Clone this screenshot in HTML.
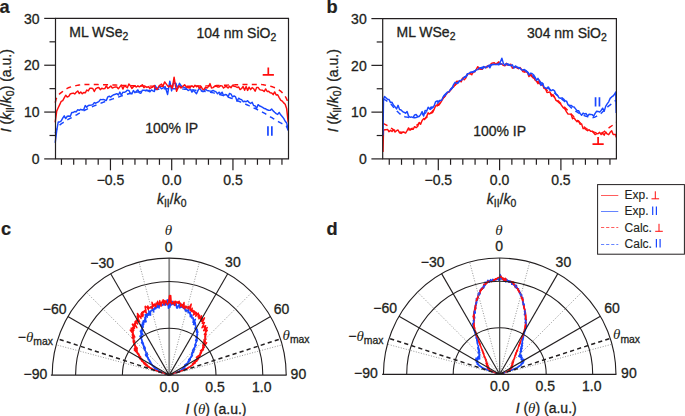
<!DOCTYPE html>
<html><head><meta charset="utf-8"><style>
html,body{margin:0;padding:0;background:#fff;width:685px;height:416px;overflow:hidden}
svg{display:block}
text{stroke:#231f20;stroke-width:0.3px}

</style></head><body>
<svg width="685" height="416" viewBox="0 0 685 416" font-family="'Liberation Sans', sans-serif">
<rect width="685" height="416" fill="#fff"/>
<text x="-0.6" y="13" font-size="18.2" font-weight="bold" style="stroke-width:0.2px" fill="#231f20">a</text>
<text x="326.6" y="12.8" font-size="18.2" font-weight="bold" style="stroke-width:0.2px" fill="#231f20">b</text>
<text x="1.1" y="235.3" font-size="18.2" font-weight="bold" style="stroke-width:0.2px" fill="#231f20">c</text>
<text x="326.6" y="235.3" font-size="18.2" font-weight="bold" style="stroke-width:0.2px" fill="#231f20">d</text>
<path d="M55.2 102.7 L56.2 98.86 L57.19 97 L58.19 95.52 L59.19 94.34 L60.18 93.39 L61.18 92.58 L62.17 91.84 L63.17 91.09 L64.16 90.37 L65.16 89.69 L66.16 89.06 L67.15 88.48 L68.15 87.96 L69.14 87.5 L70.14 87.12 L71.13 86.81 L72.13 86.55 L73.13 86.3 L74.12 86.06 L75.12 85.83 L76.11 85.61 L77.11 85.41 L78.1 85.22 L79.1 85.04 L80.1 84.89 L81.09 84.75 L82.09 84.64 L83.08 84.55 L84.08 84.49 L85.07 84.45 L86.07 84.44 L87.07 84.44 L88.06 84.44 L89.06 84.45 L90.05 84.46 L91.05 84.47 L92.04 84.48 L93.04 84.49 L94.03 84.51 L95.03 84.53 L96.03 84.55 L97.02 84.57 L98.02 84.59 L99.01 84.61 L100.01 84.63 L101 84.66 L102 84.68 L103 84.71 L103.99 84.73 L104.99 84.76 L105.98 84.79 L106.98 84.81 L107.97 84.84 L108.97 84.87 L109.97 84.89 L110.96 84.92 L111.96 84.95 L112.95 84.98 L113.95 85.01 L114.94 85.05 L115.94 85.09 L116.94 85.13 L117.93 85.17 L118.93 85.22 L119.92 85.26 L120.92 85.31 L121.91 85.35 L122.91 85.4 L123.91 85.44 L124.9 85.49 L125.9 85.53 L126.89 85.58 L127.89 85.62 L128.88 85.66 L129.88 85.69 L130.88 85.73 L131.87 85.76 L132.87 85.79 L133.86 85.82 L134.86 85.84 L135.85 85.86 L136.85 85.88 L137.85 85.9 L138.84 85.92 L139.84 85.94 L140.83 85.95 L141.83 85.97 L142.82 85.99 L143.82 86.01 L144.82 86.03 L145.81 86.05 L146.81 86.06 L147.8 86.08 L148.8 86.1 L149.79 86.11 L150.79 86.13 L151.79 86.14 L152.78 86.16 L153.78 86.17 L154.77 86.18 L155.77 86.2 L156.76 86.21 L157.76 86.22 L158.76 86.23 L159.75 86.24 L160.75 86.25 L161.74 86.26 L162.74 86.27 L163.73 86.28 L164.73 86.29 L165.73 86.29 L166.72 86.3 L167.72 86.3 L168.71 86.3 L169.71 86.31 L170.7 86.31 L171.7 86.31 L172.7 86.31 L173.69 86.31 L174.69 86.3 L175.68 86.3 L176.68 86.3 L177.67 86.29 L178.67 86.29 L179.67 86.28 L180.66 86.27 L181.66 86.26 L182.65 86.25 L183.65 86.24 L184.64 86.23 L185.64 86.22 L186.64 86.21 L187.63 86.2 L188.63 86.18 L189.62 86.17 L190.62 86.16 L191.61 86.14 L192.61 86.13 L193.61 86.11 L194.6 86.1 L195.6 86.08 L196.59 86.06 L197.59 86.05 L198.58 86.03 L199.58 86.01 L200.58 85.99 L201.57 85.97 L202.57 85.95 L203.56 85.94 L204.56 85.92 L205.55 85.9 L206.55 85.88 L207.55 85.86 L208.54 85.84 L209.54 85.82 L210.53 85.79 L211.53 85.76 L212.52 85.73 L213.52 85.7 L214.52 85.67 L215.51 85.63 L216.51 85.59 L217.5 85.55 L218.5 85.51 L219.49 85.47 L220.49 85.43 L221.49 85.38 L222.48 85.34 L223.48 85.3 L224.47 85.25 L225.47 85.21 L226.46 85.16 L227.46 85.12 L228.46 85.08 L229.45 85.04 L230.45 85 L231.44 84.96 L232.44 84.92 L233.43 84.89 L234.43 84.85 L235.43 84.81 L236.42 84.76 L237.42 84.72 L238.41 84.68 L239.41 84.64 L240.4 84.59 L241.4 84.56 L242.4 84.52 L243.39 84.49 L244.39 84.47 L245.38 84.45 L246.38 84.44 L247.37 84.44 L248.37 84.44 L249.37 84.44 L250.36 84.44 L251.36 84.44 L252.35 84.44 L253.35 84.44 L254.34 84.44 L255.34 84.44 L256.33 84.44 L257.33 84.44 L258.33 84.44 L259.32 84.44 L260.32 84.47 L261.31 84.55 L262.31 84.65 L263.3 84.78 L264.3 84.93 L265.3 85.11 L266.29 85.29 L267.29 85.49 L268.28 85.7 L269.28 85.91 L270.27 86.15 L271.27 86.43 L272.27 86.75 L273.26 87.11 L274.26 87.51 L275.25 87.95 L276.25 88.44 L277.24 88.96 L278.24 89.52 L279.24 90.12 L280.23 90.82 L281.23 91.66 L282.22 92.64 L283.22 93.77 L284.21 95.03 L285.21 96.45 L286.21 98.09 L287.2 100.35 L288.2 103.64" fill="none" stroke="#ff0d0d" stroke-width="1.45" stroke-linejoin="round" stroke-dasharray="5 4.3"/>
<path d="M55.2 133.14 L56.2 130.36 L57.19 128.01 L58.19 126.54 L59.19 125.46 L60.18 124.58 L61.18 123.83 L62.17 123.17 L63.17 122.54 L64.16 121.89 L65.16 121.24 L66.16 120.62 L67.15 120.04 L68.15 119.48 L69.14 118.94 L70.14 118.4 L71.13 117.88 L72.13 117.35 L73.13 116.82 L74.12 116.27 L75.12 115.7 L76.11 115.11 L77.11 114.51 L78.1 113.9 L79.1 113.3 L80.1 112.7 L81.09 112.12 L82.09 111.56 L83.08 111.03 L84.08 110.52 L85.07 110.02 L86.07 109.53 L87.07 109.06 L88.06 108.59 L89.06 108.13 L90.05 107.68 L91.05 107.23 L92.04 106.8 L93.04 106.37 L94.03 105.94 L95.03 105.52 L96.03 105.11 L97.02 104.7 L98.02 104.3 L99.01 103.9 L100.01 103.51 L101 103.12 L102 102.74 L103 102.36 L103.99 101.98 L104.99 101.61 L105.98 101.25 L106.98 100.89 L107.97 100.53 L108.97 100.18 L109.97 99.84 L110.96 99.5 L111.96 99.16 L112.95 98.83 L113.95 98.5 L114.94 98.18 L115.94 97.84 L116.94 97.51 L117.93 97.17 L118.93 96.84 L119.92 96.5 L120.92 96.16 L121.91 95.83 L122.91 95.51 L123.91 95.18 L124.9 94.87 L125.9 94.56 L126.89 94.27 L127.89 93.98 L128.88 93.71 L129.88 93.45 L130.88 93.21 L131.87 92.98 L132.87 92.77 L133.86 92.58 L134.86 92.41 L135.85 92.25 L136.85 92.1 L137.85 91.94 L138.84 91.79 L139.84 91.64 L140.83 91.48 L141.83 91.33 L142.82 91.19 L143.82 91.04 L144.82 90.9 L145.81 90.76 L146.81 90.62 L147.8 90.48 L148.8 90.35 L149.79 90.22 L150.79 90.1 L151.79 89.98 L152.78 89.86 L153.78 89.75 L154.77 89.64 L155.77 89.53 L156.76 89.43 L157.76 89.34 L158.76 89.25 L159.75 89.17 L160.75 89.09 L161.74 89.02 L162.74 88.95 L163.73 88.89 L164.73 88.83 L165.73 88.79 L166.72 88.75 L167.72 88.71 L168.71 88.69 L169.71 88.67 L170.7 88.65 L171.7 88.65 L172.7 88.65 L173.69 88.66 L174.69 88.68 L175.68 88.7 L176.68 88.73 L177.67 88.77 L178.67 88.81 L179.67 88.86 L180.66 88.91 L181.66 88.97 L182.65 89.03 L183.65 89.1 L184.64 89.17 L185.64 89.25 L186.64 89.33 L187.63 89.41 L188.63 89.5 L189.62 89.6 L190.62 89.7 L191.61 89.8 L192.61 89.91 L193.61 90.01 L194.6 90.13 L195.6 90.24 L196.59 90.36 L197.59 90.48 L198.58 90.6 L199.58 90.73 L200.58 90.86 L201.57 90.99 L202.57 91.12 L203.56 91.25 L204.56 91.39 L205.55 91.52 L206.55 91.66 L207.55 91.8 L208.54 91.94 L209.54 92.09 L210.53 92.26 L211.53 92.45 L212.52 92.65 L213.52 92.87 L214.52 93.1 L215.51 93.34 L216.51 93.6 L217.5 93.87 L218.5 94.15 L219.49 94.44 L220.49 94.73 L221.49 95.04 L222.48 95.35 L223.48 95.66 L224.47 95.98 L225.47 96.3 L226.46 96.63 L227.46 96.95 L228.46 97.28 L229.45 97.61 L230.45 97.94 L231.44 98.29 L232.44 98.66 L233.43 99.04 L234.43 99.43 L235.43 99.83 L236.42 100.23 L237.42 100.65 L238.41 101.07 L239.41 101.5 L240.4 101.93 L241.4 102.36 L242.4 102.79 L243.39 103.22 L244.39 103.66 L245.38 104.09 L246.38 104.53 L247.37 104.98 L248.37 105.44 L249.37 105.9 L250.36 106.36 L251.36 106.83 L252.35 107.3 L253.35 107.77 L254.34 108.24 L255.34 108.71 L256.33 109.18 L257.33 109.64 L258.33 110.11 L259.32 110.58 L260.32 111.06 L261.31 111.55 L262.31 112.06 L263.3 112.59 L264.3 113.14 L265.3 113.71 L266.29 114.31 L267.29 114.92 L268.28 115.54 L269.28 116.15 L270.27 116.77 L271.27 117.38 L272.27 117.98 L273.26 118.57 L274.26 119.17 L275.25 119.76 L276.25 120.36 L277.24 120.95 L278.24 121.54 L279.24 122.12 L280.23 122.7 L281.23 123.22 L282.22 123.65 L283.22 124.06 L284.21 124.52 L285.21 125.13 L286.21 125.96 L287.2 127.79 L288.2 130.8" fill="none" stroke="#1947ff" stroke-width="1.45" stroke-linejoin="round" stroke-dasharray="5 4.3"/>
<path d="M55.2 142.85 L56.71 130.66 L58.21 122 L59.71 122 L61.22 120.94 L62.72 118.13 L64.22 115.86 L65.72 118.61 L67.23 116.25 L68.73 115.97 L70.23 116.5 L71.74 112.41 L73.24 112.46 L74.74 111.49 L76.25 111.82 L77.75 109.67 L79.25 110.37 L80.76 109.33 L82.26 109.98 L83.76 109.48 L85.27 105.57 L86.77 107.2 L88.27 105.48 L89.78 105.23 L91.28 105.12 L92.78 104.62 L94.29 102.6 L95.79 103.21 L97.29 102.44 L98.8 101.63 L100.3 99.58 L101.8 99.61 L103.3 99.39 L104.81 99.99 L106.31 100.43 L107.81 96.89 L109.32 96.26 L110.82 97.04 L112.32 95.58 L113.83 94.74 L115.33 94.22 L116.83 93.66 L118.34 94.98 L119.84 92.1 L121.34 95.22 L122.85 92.22 L124.35 92.39 L125.85 91.64 L127.36 90.11 L128.86 90.37 L130.36 93.46 L131.87 93.92 L133.37 90.54 L134.87 92.65 L136.37 91.19 L137.88 89.92 L139.38 92.89 L140.88 93.31 L142.39 90.16 L143.89 90.29 L145.39 90.52 L146.9 90.03 L148.4 91.05 L149.9 91.75 L151.41 89.93 L152.91 90.82 L154.41 91.55 L155 85.49 L157.2 88.8 L159.3 86.59 L161.5 88.8 L165.1 86.59 L167.6 94.5 L169.8 81.19 L171.6 90.9 L173.4 83.29 L175.9 83.29 L177.4 88.8 L179.5 83.29 L181.7 86.59 L185.3 87.69 L188.2 90.6 L190 89.5 L190.49 89.29 L191.99 92.13 L193.5 90.3 L195 92.01 L196.5 93.72 L198.01 90.38 L199.51 88.14 L201.01 89.9 L202.52 91.59 L204.02 91.46 L205.52 89.02 L207.03 90.44 L208.53 90.77 L210.03 91.11 L211.53 91.23 L213.04 90.51 L214.54 91.12 L216.04 91.85 L217.55 93.77 L219.05 92.15 L220.55 94.02 L222.06 92.15 L223.56 95.53 L225.06 94.5 L226.57 94.74 L228.07 96.81 L229.57 93.38 L231.08 94.13 L232.58 97.02 L234.08 95.95 L235.59 96.96 L237.09 101.27 L238.59 98.2 L240.1 99.18 L241.6 99.6 L243.1 101.68 L244.6 101.27 L246.11 101.78 L247.61 100.69 L249.11 102.42 L250.62 103.51 L252.12 102.22 L253.62 105.5 L255.13 105.92 L256.63 108.34 L258.13 104.64 L259.64 105.95 L261.14 106.52 L262.64 107.31 L264.15 108.47 L265.65 108.78 L267.15 109.81 L268.66 110.21 L270.16 110.38 L271.66 109.07 L273.17 110.86 L274.67 112.26 L276.17 113.59 L277.68 114.41 L279.18 112.45 L280.68 114.85 L282.18 116.5 L283.69 118.36 L285.19 121.24 L286.69 122.93 L288.2 129.7" fill="none" stroke="#1947ff" stroke-width="1.45" stroke-linejoin="round" />
<path d="M55.2 122.37 L56.71 111.11 L58.21 107.81 L59.71 104.59 L61.22 101.31 L62.72 100.58 L64.22 97.96 L65.72 95.24 L67.23 97.01 L68.73 96.38 L70.23 94.01 L71.74 93.43 L73.24 93.1 L74.74 93.98 L76.25 92.29 L77.75 90.95 L79.25 93.56 L80.76 92.07 L82.26 93.81 L83.76 92.56 L85.27 92.82 L86.77 90 L88.27 90.91 L89.78 88.34 L91.28 88.22 L92.78 88.46 L94.29 91.53 L95.79 88.59 L97.29 87.78 L98.8 87.48 L100.3 89.72 L101.8 88.18 L103.3 88.84 L104.81 88.55 L106.31 85.89 L107.81 88.47 L109.32 87.35 L110.82 86.02 L112.32 88.05 L113.83 87.35 L115.33 86.99 L116.83 87.02 L118.34 88.79 L119.84 86.92 L121.34 85.08 L122.85 89.12 L124.35 85.71 L125.85 86.71 L127.36 87.75 L128.86 84.02 L130.36 85.73 L131.87 88.48 L133.37 86.68 L134.87 85.97 L136.37 87.04 L137.88 85.82 L139.38 86.87 L140.88 85.84 L142.39 84.76 L143.89 87.73 L145.39 86.49 L146.9 87.43 L148.4 86.6 L149.9 88.44 L151.41 87.59 L152.91 87.05 L154.41 85.51 L155 87.99 L157.2 89.5 L159.3 85.49 L161.5 84.09 L162.9 86.19 L164.7 81.89 L166.5 84.39 L168.7 86.99 L170.5 85.19 L172.3 88.39 L174.1 77.19 L175.2 84.39 L176.6 91.3 L178.8 85.89 L181 87.99 L184.6 84.79 L186.7 87.29 L190 87.99 L190.49 86.81 L191.99 85.84 L193.5 87.25 L195 85.3 L196.5 86.78 L198.01 85.96 L199.51 88.59 L201.01 86.29 L202.52 89.15 L204.02 89.64 L205.52 87.2 L207.03 88.04 L208.53 86.55 L210.03 83.62 L211.53 87.93 L213.04 87.63 L214.54 86.44 L216.04 86.02 L217.55 86.93 L219.05 86.95 L220.55 85.65 L222.06 85.88 L223.56 88.05 L225.06 86.69 L226.57 86.51 L228.07 88.03 L229.57 86.18 L231.08 87.75 L232.58 85.2 L234.08 86.32 L235.59 86.5 L237.09 87.5 L238.59 86.89 L240.1 89.59 L241.6 88.48 L243.1 86.57 L244.6 90.32 L246.11 86.43 L247.61 90.38 L249.11 87.16 L250.62 89.69 L252.12 87.63 L253.62 88.74 L255.13 91.25 L256.63 87.5 L258.13 87.39 L259.64 89.67 L261.14 90.14 L262.64 90.17 L264.15 91.54 L265.65 88.89 L267.15 91.5 L268.66 91.2 L270.16 92.72 L271.66 93.05 L273.17 94.62 L274.67 91.91 L276.17 95.01 L277.68 94.77 L279.18 97.59 L280.68 100.14 L282.18 101.01 L283.69 102.86 L285.19 104.3 L286.69 108.82 L288.2 122.32" fill="none" stroke="#ff0d0d" stroke-width="1.45" stroke-linejoin="round" />
<path d="M55.5 18.4 H288.5 V158.9 H55.5 Z" fill="none" stroke="#231f20" stroke-width="1.2"/>
<line x1="44.2" y1="158.9" x2="55.5" y2="158.9" stroke="#231f20" stroke-width="1.2" />
<text x="39.5" y="164.1" font-size="14" text-anchor="end" fill="#231f20" >0</text>
<line x1="49.5" y1="135.48" x2="55.5" y2="135.48" stroke="#231f20" stroke-width="1.2" />
<line x1="44.2" y1="112.07" x2="55.5" y2="112.07" stroke="#231f20" stroke-width="1.2" />
<text x="39.5" y="117.27" font-size="14" text-anchor="end" fill="#231f20" >10</text>
<line x1="49.5" y1="88.65" x2="55.5" y2="88.65" stroke="#231f20" stroke-width="1.2" />
<line x1="44.2" y1="65.23" x2="55.5" y2="65.23" stroke="#231f20" stroke-width="1.2" />
<text x="39.5" y="70.43" font-size="14" text-anchor="end" fill="#231f20" >20</text>
<line x1="49.5" y1="41.82" x2="55.5" y2="41.82" stroke="#231f20" stroke-width="1.2" />
<line x1="44.2" y1="18.4" x2="55.5" y2="18.4" stroke="#231f20" stroke-width="1.2" />
<text x="39.5" y="23.6" font-size="14" text-anchor="end" fill="#231f20" >30</text>
<line x1="61.45" y1="158.9" x2="61.45" y2="164.8" stroke="#231f20" stroke-width="1.2" />
<line x1="73.7" y1="158.9" x2="73.7" y2="164.8" stroke="#231f20" stroke-width="1.2" />
<line x1="85.95" y1="158.9" x2="85.95" y2="164.8" stroke="#231f20" stroke-width="1.2" />
<line x1="98.2" y1="158.9" x2="98.2" y2="164.8" stroke="#231f20" stroke-width="1.2" />
<line x1="110.45" y1="158.9" x2="110.45" y2="170.3" stroke="#231f20" stroke-width="1.2" />
<text x="110.45" y="184.7" font-size="14" text-anchor="middle" fill="#231f20" >−0.5</text>
<line x1="122.7" y1="158.9" x2="122.7" y2="164.8" stroke="#231f20" stroke-width="1.2" />
<line x1="134.95" y1="158.9" x2="134.95" y2="164.8" stroke="#231f20" stroke-width="1.2" />
<line x1="147.2" y1="158.9" x2="147.2" y2="164.8" stroke="#231f20" stroke-width="1.2" />
<line x1="159.45" y1="158.9" x2="159.45" y2="164.8" stroke="#231f20" stroke-width="1.2" />
<line x1="171.7" y1="158.9" x2="171.7" y2="170.3" stroke="#231f20" stroke-width="1.2" />
<text x="171.7" y="184.7" font-size="14" text-anchor="middle" fill="#231f20" >0.0</text>
<line x1="183.95" y1="158.9" x2="183.95" y2="164.8" stroke="#231f20" stroke-width="1.2" />
<line x1="196.2" y1="158.9" x2="196.2" y2="164.8" stroke="#231f20" stroke-width="1.2" />
<line x1="208.45" y1="158.9" x2="208.45" y2="164.8" stroke="#231f20" stroke-width="1.2" />
<line x1="220.7" y1="158.9" x2="220.7" y2="164.8" stroke="#231f20" stroke-width="1.2" />
<line x1="232.95" y1="158.9" x2="232.95" y2="170.3" stroke="#231f20" stroke-width="1.2" />
<text x="232.95" y="184.7" font-size="14" text-anchor="middle" fill="#231f20" >0.5</text>
<line x1="245.2" y1="158.9" x2="245.2" y2="164.8" stroke="#231f20" stroke-width="1.2" />
<line x1="257.45" y1="158.9" x2="257.45" y2="164.8" stroke="#231f20" stroke-width="1.2" />
<line x1="269.7" y1="158.9" x2="269.7" y2="164.8" stroke="#231f20" stroke-width="1.2" />
<line x1="281.95" y1="158.9" x2="281.95" y2="164.8" stroke="#231f20" stroke-width="1.2" />
<text x="171.7" y="203.6" font-size="14" text-anchor="middle" fill="#231f20"><tspan font-style="italic">k</tspan><tspan font-size="10.4" dy="3.2">II</tspan><tspan dy="-3.2">/</tspan><tspan font-style="italic">k</tspan><tspan font-size="10.4" dy="3.2">0</tspan></text>
<text transform="translate(10.9 90.7) rotate(-90)" font-size="14" text-anchor="middle" fill="#231f20"><tspan font-style="italic">I</tspan> (<tspan font-style="italic">k</tspan><tspan font-size="10.4" dy="3.2">II</tspan><tspan dy="-3.2">/</tspan><tspan font-style="italic">k</tspan><tspan font-size="10.4" dy="3.2">0</tspan><tspan dy="-3.2">) (a.u.)</tspan></text>
<text x="69.3" y="36.5" font-size="14" fill="#231f20">ML WSe<tspan font-size="10.4" dy="3">2</tspan></text>
<text x="276.2" y="37.8" font-size="14" text-anchor="end" fill="#231f20">104 nm SiO<tspan font-size="10.4" dy="3">2</tspan></text>
<text x="171.7" y="133.1" font-size="14" text-anchor="middle" fill="#231f20" >100% IP</text>
<path d="M383.01 123.36 L384 123.82 L385 124.3 L386 124.8 L386.99 125.33 L387.99 125.92 L388.99 126.57 L389.98 127.25 L390.98 127.95 L391.98 128.64 L392.97 129.3 L393.97 129.9 L394.97 130.41 L395.96 130.83 L396.96 131.18 L397.96 131.53 L398.95 131.84 L399.95 132.08 L400.94 132.22 L401.94 132.23 L402.94 132.11 L403.93 131.87 L404.93 131.55 L405.93 131.17 L406.92 130.75 L407.92 130.31 L408.92 129.89 L409.91 129.42 L410.91 128.88 L411.91 128.28 L412.9 127.65 L413.9 127.02 L414.9 126.39 L415.89 125.75 L416.89 125.08 L417.89 124.41 L418.88 123.71 L419.88 122.99 L420.88 122.25 L421.87 121.48 L422.87 120.68 L423.86 119.85 L424.86 118.98 L425.86 118.07 L426.85 117.12 L427.85 116.13 L428.85 115.11 L429.84 114.07 L430.84 113.01 L431.84 111.92 L432.83 110.83 L433.83 109.72 L434.83 108.6 L435.82 107.48 L436.82 106.34 L437.82 105.14 L438.81 103.9 L439.81 102.63 L440.81 101.35 L441.8 100.06 L442.8 98.78 L443.79 97.52 L444.79 96.3 L445.79 95.12 L446.78 94 L447.78 92.92 L448.78 91.84 L449.77 90.77 L450.77 89.71 L451.77 88.65 L452.76 87.61 L453.76 86.58 L454.76 85.58 L455.75 84.59 L456.75 83.62 L457.75 82.69 L458.74 81.78 L459.74 80.9 L460.74 80.05 L461.73 79.25 L462.73 78.48 L463.73 77.75 L464.72 77.06 L465.72 76.38 L466.71 75.71 L467.71 75.06 L468.71 74.41 L469.7 73.79 L470.7 73.18 L471.7 72.59 L472.69 72.02 L473.69 71.47 L474.69 70.94 L475.68 70.44 L476.68 69.97 L477.68 69.52 L478.67 69.1 L479.67 68.71 L480.67 68.35 L481.66 68.03 L482.66 67.7 L483.66 67.37 L484.65 67.05 L485.65 66.73 L486.65 66.41 L487.64 66.11 L488.64 65.81 L489.63 65.53 L490.63 65.26 L491.63 65.02 L492.62 64.79 L493.62 64.58 L494.62 64.4 L495.61 64.25 L496.61 64.13 L497.61 64.04 L498.6 63.98 L499.6 63.96 L500.6 63.98 L501.59 64.03 L502.59 64.11 L503.59 64.22 L504.58 64.35 L505.58 64.51 L506.58 64.7 L507.57 64.91 L508.57 65.15 L509.57 65.4 L510.56 65.67 L511.56 65.96 L512.55 66.27 L513.55 66.59 L514.55 66.92 L515.54 67.27 L516.54 67.63 L517.54 67.99 L518.53 68.37 L519.53 68.75 L520.53 69.13 L521.52 69.52 L522.52 69.94 L523.52 70.43 L524.51 70.99 L525.51 71.61 L526.51 72.28 L527.5 73.01 L528.5 73.78 L529.5 74.59 L530.49 75.44 L531.49 76.31 L532.49 77.2 L533.48 78.11 L534.48 79.03 L535.47 79.95 L536.47 80.87 L537.47 81.78 L538.46 82.68 L539.46 83.56 L540.46 84.42 L541.45 85.28 L542.45 86.15 L543.45 87.03 L544.44 87.92 L545.44 88.81 L546.44 89.72 L547.43 90.63 L548.43 91.56 L549.43 92.48 L550.42 93.42 L551.42 94.36 L552.42 95.31 L553.41 96.26 L554.41 97.21 L555.41 98.17 L556.4 99.14 L557.4 100.1 L558.39 101.07 L559.39 102.04 L560.39 103.02 L561.38 103.99 L562.38 104.97 L563.38 105.95 L564.37 106.92 L565.37 107.92 L566.37 108.93 L567.36 109.96 L568.36 110.99 L569.36 112.03 L570.35 113.08 L571.35 114.13 L572.35 115.17 L573.34 116.21 L574.34 117.23 L575.34 118.24 L576.33 119.24 L577.33 120.21 L578.32 121.16 L579.32 122.1 L580.32 123.07 L581.31 124.07 L582.31 125.06 L583.31 126.03 L584.3 126.94 L585.3 127.78 L586.3 128.53 L587.29 129.14 L588.29 129.63 L589.29 130.09 L590.28 130.53 L591.28 130.96 L592.28 131.37 L593.27 131.76 L594.27 132.11 L595.27 132.42 L596.26 132.68 L597.26 132.9 L598.26 133.05 L599.25 133.15 L600.25 133.18 L601.24 133.03 L602.24 132.68 L603.24 132.16 L604.23 131.51 L605.23 130.77 L606.23 129.97 L607.22 129.16 L608.22 128.37 L609.22 127.64 L610.21 126.96 L611.21 126.25 L612.21 125.52 L613.2 124.77 L614.2 124.01 L615.2 123.22 L616.19 122.42" fill="none" stroke="#ff0d0d" stroke-width="1.45" stroke-linejoin="round" stroke-dasharray="5 4.3"/>
<path d="M383.01 151.88 L383.5 130.4 L384.51 129.83 L386.02 129.72 L387.52 129.41 L389.03 131.76 L390.53 130.33 L392.03 131.45 L393.54 129.62 L395.04 132.07 L396.55 130.71 L398.05 129.99 L399.56 132.8 L401.06 133.45 L402.56 132.39 L404.07 132.31 L405.57 133.04 L407.08 130.57 L408.58 127.95 L410.09 130.12 L411.59 129.2 L413.1 129.32 L414.6 126.65 L416.1 127.68 L417.61 126.52 L419.11 122.48 L420.62 124.15 L422.12 120.45 L423.63 118.59 L425.13 118.61 L426.64 116.42 L428.14 112.86 L429.64 113.98 L431.15 112.97 L432.65 112.46 L434.16 109.19 L435.66 105.79 L437.17 104.73 L438.67 105.29 L440.18 103.26 L441.68 100.87 L443.18 97.93 L444.69 96.69 L446.19 94.39 L447.7 92.64 L449.2 91.76 L450.71 89.82 L452.21 87.92 L453.72 86.74 L455.22 84.48 L456.72 81.29 L458.23 81.5 L459.73 80.83 L461.24 81.77 L462.74 77.98 L464.25 79.85 L465.75 78.14 L467.25 74.29 L468.76 73.51 L470.26 73.67 L471.77 74.75 L473.27 72.22 L474.78 71.82 L476.28 69.41 L477.79 66.67 L479.29 68.62 L480.79 69.3 L482.3 69.27 L483.8 67.32 L485.31 66.94 L486.81 67.65 L488.32 65.54 L489.82 66.66 L491.33 63.37 L492.83 63.04 L494.33 62.68 L495.84 64.39 L497.34 62.96 L498.85 61.8 L500.35 64 L501.86 64.02 L503.36 65.39 L504.87 65.8 L506.37 63.26 L507.87 64.86 L509.38 64.75 L510.88 64.21 L512.39 68.15 L513.89 67.48 L515.4 66.83 L516.9 67.14 L518.41 68.71 L519.91 67.55 L521.41 69.2 L522.92 71.68 L524.42 72.15 L525.93 70.91 L527.43 72.42 L528.94 76.57 L530.44 73.72 L531.95 75.97 L533.45 76.38 L534.95 79.94 L536.46 81.21 L537.96 83.63 L539.47 80.35 L540.97 85.09 L542.48 84.2 L543.98 88.37 L545.48 88.71 L546.99 92.42 L548.49 92.2 L550 91.9 L551.5 96.18 L553.01 94.71 L554.51 97.14 L556.02 100.4 L557.52 101.25 L559.02 102.75 L560.53 103.82 L562.03 106.04 L563.54 108.03 L565.04 109.08 L566.55 111.86 L568.05 114.04 L569.56 114.14 L571.06 114.38 L572.56 118.7 L574.07 117.97 L575.57 119.99 L577.08 121.68 L578.58 120.78 L580.09 124.31 L581.59 123.86 L583.1 128.6 L584.6 128.23 L586.1 129.6 L587.61 130.76 L589.11 129.69 L590.62 131.36 L592.12 131.16 L593.63 132.69 L595.13 134.58 L596.64 133.69 L598.14 133.57 L599.64 132.35 L601.15 134.54 L602.65 133.24 L604.16 135.15 L605.66 131.95 L607.17 133.97 L608.67 134.7 L610.17 132.35 L611.68 130.87 L613.18 134.44 L614.69 134.37 L615.7 134.58 L616.19 137.39" fill="none" stroke="#ff0d0d" stroke-width="1.45" stroke-linejoin="round" />
<path d="M383.01 99.04 L384 99.4 L385 99.86 L386 100.41 L386.99 101.05 L387.99 101.75 L388.99 102.5 L389.98 103.3 L390.98 104.17 L391.98 105.28 L392.97 106.57 L393.97 107.91 L394.97 109.17 L395.96 110.23 L396.96 111.14 L397.96 112.06 L398.95 112.97 L399.95 113.83 L400.94 114.63 L401.94 115.35 L402.94 115.96 L403.93 116.43 L404.93 116.75 L405.93 116.94 L406.92 117.11 L407.92 117.27 L408.92 117.41 L409.91 117.53 L410.91 117.62 L411.91 117.69 L412.9 117.73 L413.9 117.74 L414.9 117.67 L415.89 117.48 L416.89 117.19 L417.89 116.83 L418.88 116.4 L419.88 115.93 L420.88 115.42 L421.87 114.89 L422.87 114.37 L423.86 113.86 L424.86 113.31 L425.86 112.7 L426.85 112.04 L427.85 111.33 L428.85 110.58 L429.84 109.8 L430.84 108.98 L431.84 108.14 L432.83 107.29 L433.83 106.42 L434.83 105.55 L435.82 104.67 L436.82 103.77 L437.82 102.83 L438.81 101.84 L439.81 100.81 L440.81 99.77 L441.8 98.71 L442.8 97.65 L443.79 96.59 L444.79 95.54 L445.79 94.51 L446.78 93.52 L447.78 92.54 L448.78 91.55 L449.77 90.55 L450.77 89.53 L451.77 88.52 L452.76 87.5 L453.76 86.5 L454.76 85.5 L455.75 84.52 L456.75 83.55 L457.75 82.62 L458.74 81.71 L459.74 80.83 L460.74 79.99 L461.73 79.19 L462.73 78.44 L463.73 77.74 L464.72 77.08 L465.72 76.43 L466.71 75.78 L467.71 75.14 L468.71 74.5 L469.7 73.87 L470.7 73.25 L471.7 72.64 L472.69 72.04 L473.69 71.46 L474.69 70.89 L475.68 70.34 L476.68 69.81 L477.68 69.3 L478.67 68.8 L479.67 68.33 L480.67 67.89 L481.66 67.47 L482.66 67.07 L483.66 66.71 L484.65 66.37 L485.65 66.07 L486.65 65.79 L487.64 65.56 L488.64 65.35 L489.63 65.17 L490.63 64.98 L491.63 64.8 L492.62 64.63 L493.62 64.47 L494.62 64.33 L495.61 64.21 L496.61 64.11 L497.61 64.03 L498.6 63.98 L499.6 63.96 L500.6 63.98 L501.59 64.02 L502.59 64.1 L503.59 64.2 L504.58 64.32 L505.58 64.47 L506.58 64.65 L507.57 64.84 L508.57 65.06 L509.57 65.29 L510.56 65.54 L511.56 65.81 L512.55 66.09 L513.55 66.39 L514.55 66.69 L515.54 67.01 L516.54 67.34 L517.54 67.67 L518.53 68.01 L519.53 68.36 L520.53 68.71 L521.52 69.06 L522.52 69.43 L523.52 69.87 L524.51 70.37 L525.51 70.91 L526.51 71.51 L527.5 72.14 L528.5 72.82 L529.5 73.52 L530.49 74.26 L531.49 75.02 L532.49 75.79 L533.48 76.58 L534.48 77.37 L535.47 78.17 L536.47 78.97 L537.47 79.75 L538.46 80.53 L539.46 81.29 L540.46 82.03 L541.45 82.77 L542.45 83.52 L543.45 84.27 L544.44 85.03 L545.44 85.8 L546.44 86.57 L547.43 87.35 L548.43 88.14 L549.43 88.93 L550.42 89.72 L551.42 90.52 L552.42 91.33 L553.41 92.13 L554.41 92.95 L555.41 93.76 L556.4 94.58 L557.4 95.41 L558.39 96.24 L559.39 97.07 L560.39 97.9 L561.38 98.73 L562.38 99.57 L563.38 100.41 L564.37 101.26 L565.37 102.15 L566.37 103.08 L567.36 104.04 L568.36 105.01 L569.36 105.99 L570.35 106.94 L571.35 107.87 L572.35 108.76 L573.34 109.59 L574.34 110.35 L575.34 111.03 L576.33 111.63 L577.33 112.21 L578.32 112.76 L579.32 113.3 L580.32 113.81 L581.31 114.3 L582.31 114.76 L583.31 115.2 L584.3 115.6 L585.3 115.98 L586.3 116.33 L587.29 116.64 L588.29 116.93 L589.29 117.23 L590.28 117.49 L591.28 117.68 L592.28 117.74 L593.27 117.63 L594.27 117.36 L595.27 116.95 L596.26 116.44 L597.26 115.85 L598.26 115.22 L599.25 114.57 L600.25 113.93 L601.24 113.18 L602.24 112.29 L603.24 111.29 L604.23 110.24 L605.23 109.18 L606.23 108.15 L607.22 107.22 L608.22 106.39 L609.22 105.62 L610.21 104.89 L611.21 104.17 L612.21 103.43 L613.2 102.65 L614.2 101.81 L615.2 100.91 L616.19 99.97" fill="none" stroke="#1947ff" stroke-width="1.45" stroke-linejoin="round" stroke-dasharray="5 4.3"/>
<path d="M383.01 135.52 L383.5 99.58 L384.51 96.42 L386.02 97.86 L387.52 99.22 L389.03 99.44 L390.53 102.57 L392.03 102.3 L393.54 105.36 L395.04 106.88 L396.55 108.9 L398.05 105.33 L399.56 109.49 L401.06 110.01 L402.56 111.53 L404.07 112.27 L405.57 113.18 L407.08 111.44 L408.58 115.96 L410.09 117.22 L411.59 116.93 L413.1 117.59 L414.6 114.86 L416.1 114.53 L417.61 116.48 L419.11 116.56 L420.62 114.66 L422.12 111.53 L423.63 115.97 L425.13 110.38 L426.64 111.23 L428.14 107.28 L429.64 109.01 L431.15 106.97 L432.65 107.56 L434.16 105.81 L435.66 101.58 L437.17 101.06 L438.67 101.27 L440.18 100.4 L441.68 100.21 L443.18 96.69 L444.69 94.68 L446.19 93.26 L447.7 91.85 L449.2 91.77 L450.71 88.97 L452.21 87.51 L453.72 84.36 L455.22 82.2 L456.72 83.45 L458.23 82.92 L459.73 80.69 L461.24 80.12 L462.74 79.06 L464.25 76.98 L465.75 77.1 L467.25 73.8 L468.76 73.65 L470.26 72.22 L471.77 71.97 L473.27 71.92 L474.78 71.48 L476.28 69.85 L477.79 69.59 L479.29 67.94 L480.79 67.66 L482.3 68.89 L483.8 66.52 L485.31 67.91 L486.81 66.56 L488.32 65.8 L489.82 67.83 L491.33 64.7 L492.83 64.33 L494.33 64.46 L495.84 64.57 L497.34 64.3 L498.85 64.93 L500.35 62.02 L501.86 58.14 L503.36 63.41 L504.87 65.25 L506.37 63.59 L507.87 64.01 L509.38 64.76 L510.88 65.58 L512.39 64.77 L513.89 68.21 L515.4 65.99 L516.9 66.86 L518.41 67.41 L519.91 67.89 L521.41 69.86 L522.92 69.98 L524.42 69.53 L525.93 70.59 L527.43 71.76 L528.94 74.95 L530.44 73.26 L531.95 73.48 L533.45 74.78 L534.95 76.93 L536.46 80.43 L537.96 78.35 L539.47 80.98 L540.97 85.38 L542.48 83.05 L543.98 87 L545.48 88.08 L546.99 88.44 L548.49 87.1 L550 90.36 L551.5 90.59 L553.01 89.7 L554.51 90.93 L556.02 94.18 L557.52 95.41 L559.02 97.81 L560.53 98.17 L562.03 97.85 L563.54 99.1 L565.04 100.8 L566.55 101.11 L568.05 104.89 L569.56 105.25 L571.06 105.36 L572.56 106.62 L574.07 107 L575.57 108.84 L577.08 110.67 L578.58 110.67 L580.09 113.41 L581.59 115.24 L583.1 113.05 L584.6 114.07 L586.1 113.56 L587.61 116.1 L589.11 114.25 L590.62 114.41 L592.12 114.6 L593.63 116.18 L595.13 113.33 L596.64 111.29 L598.14 111.46 L599.64 112.12 L601.15 110.4 L602.65 108.15 L604.16 111.34 L605.66 106.36 L607.17 103.88 L608.67 101.8 L610.17 98.37 L611.68 96.95 L613.18 95.93 L614.69 94 L615.7 92.02 L616.19 113.07" fill="none" stroke="#1947ff" stroke-width="1.45" stroke-linejoin="round" />
<path d="M382.7 18.6 H616.4 V158.9 H382.7 Z" fill="none" stroke="#231f20" stroke-width="1.2"/>
<line x1="371.4" y1="158.9" x2="382.7" y2="158.9" stroke="#231f20" stroke-width="1.2" />
<text x="366.7" y="164.1" font-size="14" text-anchor="end" fill="#231f20" >0</text>
<line x1="376.7" y1="135.52" x2="382.7" y2="135.52" stroke="#231f20" stroke-width="1.2" />
<line x1="371.4" y1="112.13" x2="382.7" y2="112.13" stroke="#231f20" stroke-width="1.2" />
<text x="366.7" y="117.33" font-size="14" text-anchor="end" fill="#231f20" >10</text>
<line x1="376.7" y1="88.75" x2="382.7" y2="88.75" stroke="#231f20" stroke-width="1.2" />
<line x1="371.4" y1="65.37" x2="382.7" y2="65.37" stroke="#231f20" stroke-width="1.2" />
<text x="366.7" y="70.57" font-size="14" text-anchor="end" fill="#231f20" >20</text>
<line x1="376.7" y1="41.98" x2="382.7" y2="41.98" stroke="#231f20" stroke-width="1.2" />
<line x1="371.4" y1="18.6" x2="382.7" y2="18.6" stroke="#231f20" stroke-width="1.2" />
<text x="366.7" y="23.8" font-size="14" text-anchor="end" fill="#231f20" >30</text>
<line x1="389.26" y1="158.9" x2="389.26" y2="164.8" stroke="#231f20" stroke-width="1.2" />
<line x1="401.52" y1="158.9" x2="401.52" y2="164.8" stroke="#231f20" stroke-width="1.2" />
<line x1="413.78" y1="158.9" x2="413.78" y2="164.8" stroke="#231f20" stroke-width="1.2" />
<line x1="426.04" y1="158.9" x2="426.04" y2="164.8" stroke="#231f20" stroke-width="1.2" />
<line x1="438.3" y1="158.9" x2="438.3" y2="170.3" stroke="#231f20" stroke-width="1.2" />
<text x="438.3" y="184.7" font-size="14" text-anchor="middle" fill="#231f20" >−0.5</text>
<line x1="450.56" y1="158.9" x2="450.56" y2="164.8" stroke="#231f20" stroke-width="1.2" />
<line x1="462.82" y1="158.9" x2="462.82" y2="164.8" stroke="#231f20" stroke-width="1.2" />
<line x1="475.08" y1="158.9" x2="475.08" y2="164.8" stroke="#231f20" stroke-width="1.2" />
<line x1="487.34" y1="158.9" x2="487.34" y2="164.8" stroke="#231f20" stroke-width="1.2" />
<line x1="499.6" y1="158.9" x2="499.6" y2="170.3" stroke="#231f20" stroke-width="1.2" />
<text x="499.6" y="184.7" font-size="14" text-anchor="middle" fill="#231f20" >0.0</text>
<line x1="511.86" y1="158.9" x2="511.86" y2="164.8" stroke="#231f20" stroke-width="1.2" />
<line x1="524.12" y1="158.9" x2="524.12" y2="164.8" stroke="#231f20" stroke-width="1.2" />
<line x1="536.38" y1="158.9" x2="536.38" y2="164.8" stroke="#231f20" stroke-width="1.2" />
<line x1="548.64" y1="158.9" x2="548.64" y2="164.8" stroke="#231f20" stroke-width="1.2" />
<line x1="560.9" y1="158.9" x2="560.9" y2="170.3" stroke="#231f20" stroke-width="1.2" />
<text x="560.9" y="184.7" font-size="14" text-anchor="middle" fill="#231f20" >0.5</text>
<line x1="573.16" y1="158.9" x2="573.16" y2="164.8" stroke="#231f20" stroke-width="1.2" />
<line x1="585.42" y1="158.9" x2="585.42" y2="164.8" stroke="#231f20" stroke-width="1.2" />
<line x1="597.68" y1="158.9" x2="597.68" y2="164.8" stroke="#231f20" stroke-width="1.2" />
<line x1="609.94" y1="158.9" x2="609.94" y2="164.8" stroke="#231f20" stroke-width="1.2" />
<text x="501.6" y="203.6" font-size="14" text-anchor="middle" fill="#231f20"><tspan font-style="italic">k</tspan><tspan font-size="10.4" dy="3.2">II</tspan><tspan dy="-3.2">/</tspan><tspan font-style="italic">k</tspan><tspan font-size="10.4" dy="3.2">0</tspan></text>
<text transform="translate(338.1 90.7) rotate(-90)" font-size="14" text-anchor="middle" fill="#231f20"><tspan font-style="italic">I</tspan> (<tspan font-style="italic">k</tspan><tspan font-size="10.4" dy="3.2">II</tspan><tspan dy="-3.2">/</tspan><tspan font-style="italic">k</tspan><tspan font-size="10.4" dy="3.2">0</tspan><tspan dy="-3.2">) (a.u.)</tspan></text>
<text x="396.5" y="36.5" font-size="14" fill="#231f20">ML WSe<tspan font-size="10.4" dy="3">2</tspan></text>
<text x="606.8" y="37.8" font-size="14" text-anchor="end" fill="#231f20">304 nm SiO<tspan font-size="10.4" dy="3">2</tspan></text>
<text x="499.6" y="136.4" font-size="14" text-anchor="middle" fill="#231f20" >100% IP</text>
<path d="M268.3 67.4 V74.8 M262.7 74.8 H273.9" stroke="#ff0d0d" stroke-width="1.7" fill="none"/>
<path d="M267.95 126.2 V135.8 M271.85 126.2 V135.8" stroke="#1947ff" stroke-width="1.7" fill="none"/>
<path d="M598.1 136.9 V144.1 M592.5 144.1 H603.7" stroke="#ff0d0d" stroke-width="1.7" fill="none"/>
<path d="M595.55 97.2 V106.6 M599.45 97.2 V106.6" stroke="#1947ff" stroke-width="1.7" fill="none"/>
<line x1="169.2" y1="375.1" x2="169.2" y2="258.1" stroke="#8a8a8a" stroke-width="1.8" />
<path d="M169.2 375.1 L169.2 375.1 L163.47 373.18 L158.51 371.44 L155.34 370.25 L153.73 369.58 L152.45 369 L151.43 368.51 L150.61 368.07 L149.92 367.67 L149.3 367.28 L148.69 366.9 L148.12 366.52 L147.6 366.14 L147.11 365.78 L146.66 365.42 L146.25 365.07 L145.86 364.73 L145.49 364.39 L145.15 364.05 L144.82 363.71 L144.51 363.38 L144.2 363.04 L143.9 362.7 L143.61 362.35 L143.31 362 L143.01 361.64 L142.7 361.27 L142.4 360.9 L142.11 360.53 L141.84 360.16 L141.57 359.79 L141.31 359.41 L141.07 359.04 L140.82 358.67 L140.59 358.29 L140.36 357.91 L140.13 357.53 L139.91 357.14 L139.69 356.75 L139.47 356.35 L139.26 355.95 L139.04 355.55 L138.82 355.13 L138.6 354.71 L138.38 354.28 L138.16 353.85 L137.94 353.41 L137.72 352.97 L137.51 352.52 L137.3 352.06 L137.09 351.61 L136.89 351.14 L136.69 350.68 L136.49 350.2 L136.3 349.73 L136.11 349.25 L135.92 348.77 L135.74 348.28 L135.57 347.79 L135.4 347.3 L135.23 346.8 L135.06 346.3 L134.89 345.79 L134.73 345.27 L134.57 344.75 L134.42 344.22 L134.26 343.7 L134.12 343.16 L133.98 342.63 L133.85 342.1 L133.73 341.56 L133.61 341.03 L133.5 340.49 L133.41 339.96 L133.32 339.43 L133.25 338.91 L133.18 338.38 L133.13 337.86 L133.09 337.35 L133.05 336.83 L133.02 336.31 L133 335.8 L132.99 335.29 L132.99 334.78 L132.99 334.27 L133.01 333.77 L133.03 333.27 L133.06 332.77 L133.11 332.28 L133.16 331.8 L133.23 331.32 L133.3 330.84 L133.38 330.37 L133.47 329.91 L133.57 329.45 L133.68 328.99 L133.79 328.53 L133.91 328.08 L134.04 327.63 L134.17 327.18 L134.3 326.73 L134.44 326.28 L134.59 325.83 L134.73 325.38 L134.88 324.93 L135.04 324.47 L135.19 324.01 L135.35 323.56 L135.52 323.1 L135.69 322.64 L135.86 322.18 L136.05 321.73 L136.23 321.29 L136.43 320.84 L136.63 320.41 L136.85 319.98 L137.07 319.56 L137.3 319.15 L137.54 318.75 L137.78 318.35 L138.03 317.95 L138.28 317.56 L138.54 317.17 L138.8 316.79 L139.07 316.41 L139.35 316.03 L139.63 315.66 L139.91 315.3 L140.21 314.94 L140.5 314.59 L140.81 314.25 L141.12 313.91 L141.43 313.58 L141.75 313.26 L142.08 312.95 L142.41 312.64 L142.75 312.34 L143.09 312.04 L143.43 311.75 L143.78 311.47 L144.14 311.19 L144.49 310.91 L144.85 310.64 L145.21 310.38 L145.58 310.12 L145.95 309.86 L146.32 309.61 L146.7 309.36 L147.08 309.12 L147.46 308.88 L147.85 308.65 L148.23 308.42 L148.62 308.19 L149.01 307.97 L149.41 307.75 L149.81 307.54 L150.21 307.34 L150.61 307.14 L151.02 306.94 L151.43 306.75 L151.84 306.56 L152.25 306.38 L152.66 306.2 L153.08 306.01 L153.49 305.84 L153.91 305.66 L154.33 305.48 L154.75 305.3 L155.17 305.13 L155.59 304.95 L156.02 304.77 L156.44 304.59 L156.87 304.41 L157.29 304.23 L157.72 304.05 L158.15 303.87 L158.58 303.69 L159.02 303.52 L159.45 303.36 L159.89 303.19 L160.33 303.04 L160.77 302.89 L161.21 302.75 L161.66 302.62 L162.11 302.5 L162.56 302.37 L163.01 302.25 L163.46 302.13 L163.91 302.01 L164.36 301.9 L164.82 301.79 L165.28 301.68 L165.73 301.59 L166.19 301.5 L166.65 301.42 L167.11 301.35 L167.58 301.29 L168.04 301.25 L168.5 301.22 L168.97 301.2 L169.43 301.2 L169.9 301.22 L170.36 301.25 L170.82 301.29 L171.29 301.35 L171.75 301.42 L172.21 301.5 L172.67 301.59 L173.12 301.68 L173.58 301.79 L174.04 301.9 L174.49 302.01 L174.94 302.13 L175.39 302.25 L175.84 302.37 L176.29 302.5 L176.74 302.62 L177.19 302.75 L177.63 302.89 L178.07 303.04 L178.51 303.19 L178.95 303.36 L179.38 303.52 L179.82 303.69 L180.25 303.87 L180.68 304.05 L181.11 304.23 L181.53 304.41 L181.96 304.59 L182.38 304.77 L182.81 304.95 L183.23 305.13 L183.65 305.3 L184.07 305.48 L184.49 305.66 L184.91 305.84 L185.32 306.01 L185.74 306.2 L186.15 306.38 L186.56 306.56 L186.97 306.75 L187.38 306.94 L187.79 307.14 L188.19 307.34 L188.59 307.54 L188.99 307.75 L189.39 307.97 L189.78 308.19 L190.17 308.42 L190.55 308.65 L190.94 308.88 L191.32 309.12 L191.7 309.36 L192.08 309.61 L192.45 309.86 L192.82 310.12 L193.19 310.38 L193.55 310.64 L193.91 310.91 L194.26 311.19 L194.62 311.47 L194.97 311.75 L195.31 312.04 L195.65 312.34 L195.99 312.64 L196.32 312.95 L196.65 313.26 L196.97 313.58 L197.28 313.91 L197.59 314.25 L197.9 314.59 L198.19 314.94 L198.49 315.3 L198.77 315.66 L199.05 316.03 L199.33 316.41 L199.6 316.79 L199.86 317.17 L200.12 317.56 L200.37 317.95 L200.62 318.35 L200.86 318.75 L201.1 319.15 L201.33 319.56 L201.55 319.98 L201.77 320.41 L201.97 320.84 L202.17 321.29 L202.35 321.73 L202.54 322.18 L202.71 322.64 L202.88 323.1 L203.05 323.56 L203.21 324.01 L203.36 324.47 L203.52 324.93 L203.67 325.38 L203.81 325.83 L203.96 326.28 L204.1 326.73 L204.23 327.18 L204.36 327.63 L204.49 328.08 L204.61 328.53 L204.72 328.99 L204.83 329.45 L204.93 329.91 L205.02 330.37 L205.1 330.84 L205.17 331.32 L205.24 331.8 L205.29 332.28 L205.34 332.77 L205.37 333.27 L205.39 333.77 L205.41 334.27 L205.41 334.78 L205.41 335.29 L205.4 335.8 L205.38 336.31 L205.35 336.83 L205.31 337.35 L205.27 337.86 L205.22 338.38 L205.15 338.91 L205.08 339.43 L204.99 339.96 L204.9 340.49 L204.79 341.03 L204.67 341.56 L204.55 342.1 L204.42 342.63 L204.28 343.16 L204.14 343.7 L203.98 344.22 L203.83 344.75 L203.67 345.27 L203.51 345.79 L203.34 346.3 L203.17 346.8 L203 347.3 L202.83 347.79 L202.66 348.28 L202.48 348.77 L202.29 349.25 L202.1 349.73 L201.91 350.2 L201.71 350.68 L201.51 351.14 L201.31 351.61 L201.1 352.06 L200.89 352.52 L200.68 352.97 L200.46 353.41 L200.24 353.85 L200.02 354.28 L199.8 354.71 L199.58 355.13 L199.36 355.55 L199.14 355.95 L198.93 356.35 L198.71 356.75 L198.49 357.14 L198.27 357.53 L198.04 357.91 L197.81 358.29 L197.58 358.67 L197.33 359.04 L197.09 359.41 L196.83 359.79 L196.56 360.16 L196.29 360.53 L196 360.9 L195.7 361.27 L195.39 361.64 L195.09 362 L194.79 362.35 L194.5 362.7 L194.2 363.04 L193.89 363.38 L193.58 363.71 L193.25 364.05 L192.91 364.39 L192.54 364.73 L192.15 365.07 L191.74 365.42 L191.29 365.78 L190.8 366.14 L190.28 366.52 L189.71 366.9 L189.1 367.28 L188.48 367.67 L187.79 368.07 L186.97 368.51 L185.95 369 L184.67 369.58 L183.06 370.25 L179.89 371.44 L174.93 373.18 L169.2 375.1 L169.2 375.1" fill="none" stroke="#ff0d0d" stroke-width="1.45" stroke-linejoin="round" stroke-dasharray="5 4.3"/>
<path d="M169.2 375.1 L169.2 375.1 L167.35 374.48 L165.49 373.83 L163.73 373.19 L162.19 372.6 L160.97 372.11 L160.19 371.76 L159.62 371.48 L159.1 371.21 L158.63 370.95 L158.2 370.7 L157.82 370.46 L157.47 370.24 L157.15 370.02 L156.86 369.8 L156.6 369.6 L156.36 369.39 L156.13 369.2 L155.92 369 L155.72 368.81 L155.53 368.61 L155.34 368.41 L155.15 368.21 L154.96 368.01 L154.76 367.79 L154.54 367.57 L154.32 367.33 L154.08 367.09 L153.83 366.83 L153.59 366.57 L153.35 366.32 L153.12 366.06 L152.9 365.8 L152.68 365.53 L152.47 365.27 L152.26 365 L152.06 364.74 L151.86 364.47 L151.66 364.19 L151.46 363.92 L151.27 363.64 L151.08 363.35 L150.89 363.07 L150.71 362.78 L150.52 362.48 L150.34 362.19 L150.15 361.88 L149.97 361.58 L149.78 361.26 L149.6 360.95 L149.41 360.62 L149.23 360.29 L149.04 359.95 L148.85 359.61 L148.66 359.27 L148.48 358.91 L148.3 358.56 L148.11 358.2 L147.93 357.83 L147.75 357.46 L147.58 357.09 L147.4 356.71 L147.22 356.32 L147.05 355.93 L146.87 355.53 L146.7 355.13 L146.52 354.72 L146.35 354.3 L146.18 353.88 L146.01 353.45 L145.83 353.01 L145.66 352.57 L145.49 352.11 L145.32 351.65 L145.15 351.19 L144.98 350.71 L144.81 350.23 L144.64 349.74 L144.47 349.25 L144.3 348.74 L144.13 348.23 L143.96 347.7 L143.8 347.17 L143.63 346.63 L143.46 346.08 L143.29 345.51 L143.12 344.94 L142.95 344.35 L142.78 343.76 L142.61 343.15 L142.44 342.53 L142.26 341.89 L142.04 341.18 L141.8 340.44 L141.58 339.72 L141.44 339.07 L141.36 338.49 L141.31 337.94 L141.29 337.42 L141.29 336.92 L141.3 336.43 L141.33 335.95 L141.36 335.48 L141.41 335.01 L141.45 334.53 L141.5 334.05 L141.54 333.55 L141.58 333.03 L141.61 332.5 L141.65 331.97 L141.68 331.42 L141.73 330.88 L141.77 330.32 L141.82 329.77 L141.88 329.22 L141.95 328.67 L142.02 328.13 L142.11 327.59 L142.2 327.06 L142.31 326.53 L142.43 326.02 L142.56 325.52 L142.69 325.02 L142.83 324.52 L142.98 324.02 L143.14 323.54 L143.3 323.05 L143.47 322.57 L143.65 322.09 L143.84 321.62 L144.03 321.15 L144.22 320.68 L144.43 320.22 L144.64 319.76 L144.86 319.31 L145.08 318.86 L145.31 318.41 L145.54 317.96 L145.78 317.51 L146.02 317.07 L146.27 316.62 L146.52 316.19 L146.78 315.75 L147.05 315.33 L147.32 314.91 L147.6 314.5 L147.89 314.1 L148.19 313.71 L148.49 313.34 L148.8 312.98 L149.12 312.63 L149.45 312.29 L149.78 311.96 L150.12 311.64 L150.46 311.33 L150.81 311.02 L151.16 310.73 L151.51 310.43 L151.87 310.15 L152.24 309.87 L152.61 309.6 L152.98 309.33 L153.35 309.07 L153.73 308.82 L154.11 308.57 L154.5 308.32 L154.89 308.08 L155.28 307.84 L155.67 307.61 L156.07 307.39 L156.47 307.17 L156.87 306.95 L157.27 306.74 L157.68 306.54 L158.09 306.34 L158.5 306.14 L158.92 305.96 L159.34 305.77 L159.76 305.6 L160.18 305.43 L160.6 305.26 L161.03 305.1 L161.46 304.94 L161.89 304.78 L162.32 304.62 L162.75 304.45 L163.18 304.3 L163.62 304.14 L164.05 303.99 L164.49 303.85 L164.93 303.71 L165.38 303.58 L165.82 303.47 L166.27 303.36 L166.72 303.26 L167.17 303.18 L167.62 303.11 L168.07 303.06 L168.52 303.02 L168.97 303 L169.43 303 L169.88 303.02 L170.33 303.06 L170.78 303.11 L171.23 303.18 L171.68 303.26 L172.13 303.36 L172.58 303.47 L173.02 303.58 L173.47 303.71 L173.91 303.85 L174.35 303.99 L174.78 304.14 L175.22 304.3 L175.65 304.45 L176.08 304.62 L176.51 304.78 L176.94 304.94 L177.37 305.1 L177.8 305.26 L178.22 305.43 L178.64 305.6 L179.06 305.77 L179.48 305.96 L179.9 306.14 L180.31 306.34 L180.72 306.54 L181.13 306.74 L181.53 306.95 L181.93 307.17 L182.33 307.39 L182.73 307.61 L183.12 307.84 L183.51 308.08 L183.9 308.32 L184.29 308.57 L184.67 308.82 L185.05 309.07 L185.42 309.33 L185.79 309.6 L186.16 309.87 L186.53 310.15 L186.89 310.43 L187.24 310.73 L187.59 311.02 L187.94 311.33 L188.28 311.64 L188.62 311.96 L188.95 312.29 L189.28 312.63 L189.6 312.98 L189.91 313.34 L190.21 313.71 L190.51 314.1 L190.8 314.5 L191.08 314.91 L191.35 315.33 L191.62 315.75 L191.88 316.19 L192.13 316.62 L192.38 317.07 L192.62 317.51 L192.86 317.96 L193.09 318.41 L193.32 318.86 L193.54 319.31 L193.76 319.76 L193.97 320.22 L194.18 320.68 L194.37 321.15 L194.56 321.62 L194.75 322.09 L194.93 322.57 L195.1 323.05 L195.26 323.54 L195.42 324.02 L195.57 324.52 L195.71 325.02 L195.84 325.52 L195.97 326.02 L196.09 326.53 L196.2 327.06 L196.29 327.59 L196.38 328.13 L196.45 328.67 L196.52 329.22 L196.58 329.77 L196.63 330.32 L196.67 330.88 L196.72 331.42 L196.75 331.97 L196.79 332.5 L196.82 333.03 L196.86 333.55 L196.9 334.05 L196.95 334.53 L196.99 335.01 L197.04 335.48 L197.07 335.95 L197.1 336.43 L197.11 336.92 L197.11 337.42 L197.09 337.94 L197.04 338.49 L196.96 339.07 L196.82 339.72 L196.6 340.44 L196.36 341.18 L196.14 341.89 L195.96 342.53 L195.79 343.15 L195.62 343.76 L195.45 344.35 L195.28 344.94 L195.11 345.51 L194.94 346.08 L194.77 346.63 L194.6 347.17 L194.44 347.7 L194.27 348.23 L194.1 348.74 L193.93 349.25 L193.76 349.74 L193.59 350.23 L193.42 350.71 L193.25 351.19 L193.08 351.65 L192.91 352.11 L192.74 352.57 L192.57 353.01 L192.39 353.45 L192.22 353.88 L192.05 354.3 L191.88 354.72 L191.7 355.13 L191.53 355.53 L191.35 355.93 L191.18 356.32 L191 356.71 L190.82 357.09 L190.65 357.46 L190.47 357.83 L190.29 358.2 L190.1 358.56 L189.92 358.91 L189.74 359.27 L189.55 359.61 L189.36 359.95 L189.17 360.29 L188.99 360.62 L188.8 360.95 L188.62 361.26 L188.43 361.58 L188.25 361.88 L188.06 362.19 L187.88 362.48 L187.69 362.78 L187.51 363.07 L187.32 363.35 L187.13 363.64 L186.94 363.92 L186.74 364.19 L186.54 364.47 L186.34 364.74 L186.14 365 L185.93 365.27 L185.72 365.53 L185.5 365.8 L185.28 366.06 L185.05 366.32 L184.81 366.57 L184.57 366.83 L184.32 367.09 L184.08 367.33 L183.86 367.57 L183.64 367.79 L183.44 368.01 L183.25 368.21 L183.06 368.41 L182.87 368.61 L182.68 368.81 L182.48 369 L182.27 369.2 L182.04 369.39 L181.8 369.6 L181.54 369.8 L181.25 370.02 L180.93 370.24 L180.58 370.46 L180.2 370.7 L179.77 370.95 L179.3 371.21 L178.78 371.48 L178.21 371.76 L177.43 372.11 L176.21 372.6 L174.67 373.19 L172.91 373.83 L171.05 374.48 L169.2 375.1 L169.2 375.1" fill="none" stroke="#1947ff" stroke-width="1.45" stroke-linejoin="round" stroke-dasharray="5 4.3"/>
<path d="M169.2 375.1 L169.2 375.1 L166.2 374.09 L161.82 372.55 L163.76 373.17 L160.1 371.8 L160.55 371.89 L157.13 370.51 L156.72 370.25 L160.78 371.75 L159.06 370.98 L156.6 369.86 L156.07 369.53 L155.8 369.29 L156.5 369.48 L155.58 368.95 L155.08 368.59 L155.74 368.77 L154.16 367.89 L157.92 369.59 L154.18 367.62 L155.95 368.37 L153.29 366.87 L154.43 367.31 L154.91 367.43 L153.12 366.3 L154.35 366.83 L154.08 366.53 L154.57 366.66 L152.51 365.3 L151.65 364.61 L150.8 363.92 L151.9 364.4 L150.3 363.22 L151.25 363.62 L151.14 363.36 L150.16 362.51 L149.4 361.79 L150.74 362.49 L150.41 362.05 L150.09 361.61 L149.6 361.04 L150.45 361.43 L148.12 359.49 L149.44 360.23 L148.29 359.11 L149.44 359.75 L147.95 358.33 L147.7 357.87 L148.34 358.11 L145.58 355.56 L147.08 356.52 L145.42 354.82 L146.06 355.06 L147.5 356.01 L147 355.27 L145.97 354.03 L146.13 353.86 L145.94 353.35 L146.06 353.13 L147.33 354.01 L145.58 351.98 L147.28 353.31 L144.59 350.27 L145.42 350.74 L145.2 350.13 L144.53 349.04 L143.87 347.94 L145.23 348.99 L145.3 348.67 L144.47 347.33 L145.13 347.65 L143.96 345.87 L141.51 342.53 L143.61 344.53 L141.92 342.01 L143.44 343.36 L141.74 340.74 L141.98 340.5 L141.54 339.38 L140.91 337.99 L139.89 336.04 L141.13 337.09 L141.19 336.56 L142.08 337.18 L140.9 334.89 L141.6 335.24 L140.83 333.46 L141.55 333.84 L140.27 331.21 L143.06 334.78 L141.87 332.22 L141.07 330.22 L142 330.96 L142.37 330.8 L142.07 329.53 L142.9 330.16 L141.98 327.76 L140.55 324.38 L141.54 325.26 L143.15 327.31 L143.15 326.42 L143.01 325.26 L142.32 322.97 L143.63 324.57 L143.74 323.82 L143.01 321.33 L143.25 320.77 L144.19 321.71 L144.85 322.06 L145.33 322.04 L145.11 320.44 L146.19 321.79 L144.87 317.55 L145.87 318.73 L145.59 316.8 L145.21 314.51 L145.87 314.85 L147.3 317.25 L146.67 314.18 L146.88 313.31 L148.09 315.23 L148.53 315.03 L148.53 313.49 L149.53 314.97 L148.65 310.61 L150.61 315.2 L150.49 313.13 L150.57 311.67 L150.97 311.25 L151.26 310.38 L151.66 309.89 L152.26 310.18 L152.26 308.09 L153.78 312.06 L153.55 308.94 L154.22 309.57 L154.43 308.16 L154.88 307.75 L155.66 308.97 L156.06 308.33 L156.18 306.16 L156.78 306.49 L157.52 307.6 L157.41 303.73 L157.87 303.13 L159.15 307.94 L159.31 305.36 L159.42 302.19 L160.25 304.3 L160.87 304.85 L161.45 305.23 L162.02 305.48 L162.49 304.85 L163.05 305.11 L163.43 303.17 L164.08 304.53 L164.62 304.42 L165.21 305.28 L165.66 303.58 L166.24 304.58 L166.74 303.5 L167.19 299.76 L167.82 302.59 L168.44 308.35 L168.91 299.52 L169.48 301.92 L169.98 307.2 L170.56 303.5 L171.07 305.13 L171.61 304.72 L172.28 301.57 L172.75 303.46 L173.23 304.67 L173.78 304.48 L174.29 304.91 L174.9 303.96 L175.33 305.33 L176.08 303.03 L176.35 305.81 L176.64 308 L177.38 306.13 L177.67 308.04 L178.52 305.6 L179.24 304.35 L179.67 305.12 L179.77 308 L180.38 307.47 L181.45 304.33 L181.61 306.53 L182.02 307.21 L182.78 306.08 L183.65 304.52 L183.82 306.33 L183.97 308.15 L184.5 308.17 L185.05 308.13 L185.11 310.06 L185.41 310.96 L186.23 309.84 L186.32 311.48 L187.06 310.67 L187.55 310.83 L188.82 308.29 L188.01 312.8 L188.7 312.25 L189.08 312.71 L189.72 312.35 L190.37 312.01 L190.07 314.43 L190.28 315.33 L190.24 316.86 L190.89 316.45 L191.9 315.12 L191.98 316.27 L191.76 318.13 L192.37 317.87 L192.87 317.9 L193.4 317.86 L193.09 319.76 L193.54 319.89 L192.92 322.37 L193.53 322.1 L195.35 319.28 L193.37 324.49 L194.67 322.81 L195.21 322.72 L195.05 324.03 L194.96 325.14 L195.6 324.85 L195.8 325.38 L195.91 326.09 L194.88 328.83 L196.13 327.42 L195.77 328.9 L196.06 329.19 L196.68 328.96 L197.04 329.15 L197.28 329.53 L196.35 331.79 L197.42 330.83 L197.65 331.21 L197.68 331.9 L197.92 332.24 L196.82 334.55 L196.86 335.16 L197.68 334.63 L196.01 337.61 L197.28 336.47 L196.69 337.88 L196.79 338.33 L195.6 340.47 L196.18 340.27 L196.67 340.18 L197.15 340.12 L196.97 340.88 L195.85 342.77 L195.55 343.63 L194.78 345.02 L195.65 344.47 L194.87 345.82 L195.43 345.64 L196.27 345.16 L194.45 347.6 L192.9 349.68 L193.27 349.67 L192.5 350.86 L192.53 351.19 L194.7 349.37 L193.47 350.98 L191.57 353.2 L193.47 351.7 L193.86 351.69 L192.06 353.72 L191.54 354.53 L191.66 354.73 L192.07 354.67 L192.22 354.85 L192.57 354.86 L192.4 355.32 L192.16 355.82 L192.14 356.13 L191.2 357.19 L188.67 359.49 L189.93 358.74 L190.18 358.8 L189.21 359.8 L190.37 359.16 L188.77 360.6 L187.92 361.45 L190.29 359.97 L189.22 360.97 L188.51 361.69 L189.07 361.52 L189.01 361.78 L187.97 362.69 L184.58 365.1 L186.36 364.12 L186.38 364.3 L185.53 365 L186.65 364.49 L187.55 364.13 L185.36 365.61 L184.33 366.37 L187.78 364.57 L184.59 366.53 L183.38 367.35 L184.83 366.71 L184.75 366.9 L183.11 367.9 L184.65 367.25 L182.86 368.29 L182.1 368.79 L183.2 368.38 L183.7 368.28 L181.74 369.32 L182.67 369.02 L181.87 369.49 L185.18 368.17 L180.47 370.32 L182.7 369.49 L180.49 370.51 L179.92 370.84 L180.44 370.73 L180.06 370.97 L179.85 371.14 L177.69 372.02 L174.92 373.07 L172.99 373.79 L172.1 374.12 L169.2 375.1 L169.2 375.1" fill="none" stroke="#1947ff" stroke-width="1.45" stroke-linejoin="round" />
<path d="M169.2 375.1 L169.2 375.1 L162.38 372.8 L155.42 370.34 L151.13 368.7 L152.87 369.18 L151.45 368.51 L150.1 367.84 L147.48 366.65 L148.92 367.03 L145.85 365.61 L149.05 366.73 L147.25 365.78 L146.74 365.36 L144.72 364.27 L143.88 363.66 L147.41 365.06 L146.1 364.24 L143.8 362.92 L144.96 363.25 L145.91 363.49 L141.66 361.11 L142.12 361.08 L141.75 360.63 L142.85 360.95 L140.27 359.28 L141.84 359.87 L139.56 358.3 L142.23 359.54 L141.85 359.04 L140.02 357.67 L141.07 358 L138.8 356.3 L139.14 356.2 L140.57 356.79 L138.88 355.38 L139.22 355.27 L137.16 353.56 L139.07 354.51 L138.53 353.8 L135.98 351.65 L134.31 350.07 L134.4 349.73 L136.82 351.11 L136.36 350.38 L134.35 348.45 L136.36 349.58 L137.27 349.9 L135.59 348.16 L134.94 347.2 L136.41 347.99 L137.26 348.28 L136.78 347.45 L133.87 344.5 L135.5 345.46 L134.52 344.13 L133.89 343.08 L133.22 341.96 L134.25 342.42 L133.07 340.8 L134.64 341.78 L133.87 340.52 L134.56 340.67 L131.88 337.44 L133.19 338.21 L133.97 338.45 L133.47 337.35 L133.28 336.57 L132.19 334.79 L134.81 337.06 L134.16 335.75 L133.43 334.31 L130.22 329.96 L132.03 331.38 L133.26 332.17 L132.44 330.51 L131.09 328.15 L133.64 330.61 L133.89 330.22 L132.37 327.55 L133.26 327.95 L133.23 327.16 L134.58 328.22 L132.3 324.33 L132.7 324.07 L134.01 325.1 L134.08 324.39 L136.87 327.64 L134.51 323.34 L135.49 323.96 L135.11 322.51 L135.09 321.59 L136.24 322.51 L137.66 323.92 L136.06 320.4 L137.28 321.49 L137.18 320.37 L137.68 320.28 L137.73 319.4 L139.65 321.84 L137.05 316.11 L138.15 317.07 L137.79 315.31 L137.45 313.53 L139.31 316.03 L141.03 318.36 L140.68 316.54 L141.25 316.6 L141.1 315.1 L141.05 313.8 L142.89 316.62 L141.65 312.6 L143.3 315.12 L142.49 311.93 L143.18 312.2 L143.72 312.18 L143.99 311.45 L144.71 311.86 L145.18 311.65 L146.25 313.03 L145.72 310.08 L145.11 306.77 L145.51 306.24 L146.35 307 L147.15 307.7 L148.34 309.66 L147.74 305.94 L148.97 308.1 L149.45 307.86 L150.04 307.97 L150.35 307.1 L151.07 307.72 L151.41 306.91 L152.32 308.34 L152.52 306.94 L151.98 302.33 L153.4 306 L153.97 306.07 L154.2 304.57 L154.66 304.06 L155.78 306.88 L155.99 305.15 L156.16 303.05 L156.88 303.92 L157.44 303.94 L157.58 301.32 L158.69 304.86 L159.02 303.37 L159.69 304.19 L159.79 300.6 L161.03 306.23 L161.3 303.9 L161.81 303.5 L162.15 301.33 L162.72 301.28 L163.16 299.79 L164.09 304.68 L164.37 300.6 L165.03 302.24 L165.61 302.75 L166.08 300.6 L166.73 302.98 L167.33 304.86 L167.84 303.9 L168.38 303.77 L168.92 300.31 L169.5 295.57 L170.03 302.7 L170.71 295.57 L171.16 301.67 L171.64 304.02 L172.23 302.8 L172.76 303.18 L173.28 303.81 L174 301.14 L174.42 303.11 L174.78 305.51 L175.7 301.13 L176.12 302.64 L176.74 302 L177.24 302.59 L177.89 301.87 L178.3 303.05 L179.11 301.23 L179.46 302.8 L179.98 303.06 L180.51 303.24 L180.52 306.59 L181.4 304.64 L181.88 305.02 L182.54 304.46 L182.54 307.29 L184.05 302.52 L184.04 305.28 L184.07 307.68 L184.37 308.72 L185.42 306.57 L185.99 306.47 L186.23 307.73 L187.06 306.62 L187.24 308.06 L188.26 306.35 L188.16 308.68 L188.96 307.81 L189.94 306.42 L191.23 304.11 L189.89 310.19 L190.63 309.59 L190.88 310.49 L192.23 308.17 L191.6 311.57 L192.42 310.81 L193.13 310.4 L193 312.23 L193.43 312.52 L194.15 312.09 L193.54 314.99 L194.36 314.3 L195.44 313.04 L196.21 312.53 L196.39 313.42 L195.67 316.27 L196.96 314.64 L198.24 313.1 L198.44 313.9 L198.33 315.3 L198.07 316.97 L199.56 315.11 L198.96 317.39 L198.81 318.74 L199.41 318.65 L201.54 315.76 L200.84 318.08 L201.92 317.18 L200.83 320.09 L202.31 318.51 L201.24 321.29 L201.87 321.17 L204.46 317.88 L203.16 320.92 L202.23 323.29 L202.81 323.25 L203.4 323.22 L204.43 322.53 L203 325.48 L201.97 327.78 L203.56 326.28 L204.02 326.41 L204.28 326.83 L205.66 325.73 L204.81 327.64 L205.47 327.52 L203.62 330.65 L205.8 328.57 L207.23 327.51 L205.93 329.84 L205.47 331.11 L205.43 331.82 L207.29 330.3 L204.34 334.41 L205.27 333.96 L205.93 333.85 L206.26 334.11 L204.9 336.22 L205.74 335.91 L205.02 337.26 L205.44 337.4 L205.08 338.33 L203.8 340.18 L205.05 339.47 L206.04 339.04 L203.67 341.87 L204.42 341.66 L205.39 341.26 L203.07 343.91 L204.47 343.11 L202.72 345.17 L205.32 343.33 L206.65 342.66 L206.1 343.63 L202.99 346.72 L204.04 346.29 L203.03 347.56 L202.79 348.17 L204.5 347.24 L200.44 350.83 L203.4 348.94 L201.68 350.66 L203.42 349.75 L201.51 351.55 L200.07 352.95 L201.12 352.56 L201.51 352.66 L200.26 353.87 L200.64 353.97 L198.94 355.43 L196.37 357.43 L200.44 355.12 L199.89 355.8 L198.83 356.78 L198.45 357.32 L199.59 356.94 L197.13 358.7 L196.47 359.36 L196.94 359.37 L198.68 358.68 L194.52 361.25 L198.04 359.61 L194.95 361.52 L193.88 362.33 L197.08 360.94 L194.66 362.41 L192.46 363.73 L193.53 363.43 L195.14 362.9 L195.16 363.14 L192.24 364.69 L193.09 364.53 L193.08 364.75 L190.44 366.09 L191.42 365.87 L190.18 366.57 L188.69 367.35 L188.01 367.78 L188.1 367.92 L187.07 368.46 L184.88 369.41 L183.45 370.05 L183.31 370.22 L176.43 372.66 L169.2 375.1 L169.2 375.1" fill="none" stroke="#ff0d0d" stroke-width="1.45" stroke-linejoin="round" />
<path d="M122.4 375.1 A46.8 46.8 0 0 1 216 375.1" fill="none" stroke="#231f20" stroke-width="1.1"/>
<path d="M75.6 375.1 A93.6 93.6 0 0 1 262.8 375.1" fill="none" stroke="#231f20" stroke-width="1.1"/>
<path d="M52.2 375.1 A117 117 0 0 1 286.2 375.1" fill="none" stroke="#231f20" stroke-width="1.1"/>
<line x1="169.2" y1="375.1" x2="56.19" y2="344.82" stroke="#8a8a8a" stroke-width="0.9" stroke-dasharray="1 1.6"/>
<line x1="169.2" y1="375.1" x2="86.47" y2="292.37" stroke="#8a8a8a" stroke-width="0.9" stroke-dasharray="1 1.6"/>
<line x1="169.2" y1="375.1" x2="138.92" y2="262.09" stroke="#8a8a8a" stroke-width="0.9" stroke-dasharray="1 1.6"/>
<line x1="169.2" y1="375.1" x2="199.48" y2="262.09" stroke="#8a8a8a" stroke-width="0.9" stroke-dasharray="1 1.6"/>
<line x1="169.2" y1="375.1" x2="251.93" y2="292.37" stroke="#8a8a8a" stroke-width="0.9" stroke-dasharray="1 1.6"/>
<line x1="169.2" y1="375.1" x2="282.21" y2="344.82" stroke="#8a8a8a" stroke-width="0.9" stroke-dasharray="1 1.6"/>
<line x1="169.2" y1="375.1" x2="67.88" y2="316.6" stroke="#231f20" stroke-width="1.1" />
<line x1="169.2" y1="375.1" x2="110.7" y2="273.78" stroke="#231f20" stroke-width="1.1" />
<line x1="169.2" y1="375.1" x2="227.7" y2="273.78" stroke="#231f20" stroke-width="1.1" />
<line x1="169.2" y1="375.1" x2="270.52" y2="316.6" stroke="#231f20" stroke-width="1.1" />
<line x1="169.2" y1="375.1" x2="57.93" y2="338.92" stroke="#231f20" stroke-width="1.5" stroke-dasharray="4.2 3.2"/>
<line x1="169.2" y1="375.1" x2="280.47" y2="338.92" stroke="#231f20" stroke-width="1.5" stroke-dasharray="4.2 3.2"/>
<line x1="50.9" y1="375.1" x2="286.7" y2="375.1" stroke="#231f20" stroke-width="1.2" />
<text x="168.7" y="251.7" font-size="14" text-anchor="middle" fill="#231f20" >0</text>
<text x="168.4" y="235.3" text-anchor="middle" font-family="'Liberation Serif', serif" font-style="italic" font-size="15" style="stroke-width:0" fill="#231f20">θ</text>
<text x="114" y="268.1" font-size="14" text-anchor="end" fill="#231f20" >−30</text>
<text x="225.1" y="267.3" font-size="14" text-anchor="start" fill="#231f20" >30</text>
<text x="66.6" y="314.1" font-size="14" text-anchor="end" fill="#231f20" >−60</text>
<text x="273.8" y="314.1" font-size="14" text-anchor="start" fill="#231f20" >60</text>
<text x="47.3" y="379" font-size="14" text-anchor="end" fill="#231f20" >−90</text>
<text x="290.6" y="378.5" font-size="14" text-anchor="start" fill="#231f20" >90</text>
<text x="17.7" y="341.5" font-size="14" fill="#231f20">−<tspan font-family="'Liberation Serif', serif" font-style="italic" font-size="15" style="stroke-width:0">θ</tspan><tspan font-size="10.4" dy="3.1">max</tspan></text>
<text x="282.5" y="340.2" font-family="'Liberation Serif', serif" font-style="italic" font-size="15" style="stroke-width:0" fill="#231f20">θ<tspan font-family="'Liberation Sans', sans-serif" font-style="normal" font-size="10.4" style="stroke-width:0.3px" dy="3.1">max</tspan></text>
<text x="169.2" y="392" font-size="14" text-anchor="middle" fill="#231f20" >0.0</text>
<text x="215" y="392" font-size="14" text-anchor="middle" fill="#231f20" >0.5</text>
<text x="261.8" y="392" font-size="14" text-anchor="middle" fill="#231f20" >1.0</text>
<text x="216" y="413.7" font-size="14" text-anchor="middle" fill="#231f20"><tspan font-style="italic">I</tspan> (<tspan font-family="'Liberation Serif', serif" font-style="italic" font-size="15" style="stroke-width:0">θ</tspan>) (a.u.)</text>
<path d="M499.7 374.3 L499.7 374.3 L494.56 372.57 L493.62 372.2 L489.43 370.66 L487.57 369.9 L485.95 369.19 L484.29 368.44 L483.05 367.82 L481.07 366.89 L481.32 366.82 L479.9 366.07 L479.2 365.6 L479.74 365.65 L478.64 364.98 L477.04 364.06 L477.86 364.23 L478.41 364.29 L477.72 363.76 L478.24 363.81 L477.12 363.04 L476.52 362.52 L477.81 362.97 L477.25 362.46 L476.13 361.64 L477.39 362.1 L476.82 361.56 L477.78 361.87 L477.61 361.56 L477.38 361.19 L475.31 359.73 L477.34 360.71 L477.47 360.55 L477.54 360.37 L477.3 359.97 L476.74 359.37 L477.17 359.4 L475.85 358.27 L477.31 359 L476.49 358.18 L477.45 358.59 L477.3 358.23 L478.89 359.13 L478.04 358.25 L478.09 358.04 L478.32 357.95 L479.78 358.83 L477.73 356.96 L478.72 357.49 L478.86 357.33 L478.83 357.04 L478.9 356.83 L478.56 356.27 L479.79 357.06 L479.63 356.65 L478.87 355.7 L479.02 355.54 L479.4 355.6 L479.54 355.45 L479.71 355.32 L479.2 354.53 L478.38 353.43 L479.78 354.5 L478.1 352.5 L478.49 352.57 L479.24 353.02 L478.41 351.81 L479.73 352.88 L479.81 352.64 L479.46 351.91 L478.84 350.88 L478.71 350.36 L478.73 350.02 L478.29 349.12 L479.49 350.16 L477.89 347.84 L478.9 348.67 L478.38 347.62 L478.16 346.92 L478.49 346.92 L478.54 346.54 L478.27 345.73 L477.66 344.45 L477.26 343.42 L477.18 342.81 L477.88 343.29 L477.64 342.45 L477.57 341.81 L476.72 340.01 L477.79 341.06 L476 337.74 L476.64 338.13 L476.58 337.41 L475.82 335.56 L475.27 333.97 L475.21 333.17 L474.37 331.02 L474.24 330.02 L473.25 327.49 L472.89 325.98 L473.31 325.87 L472.62 323.7 L473.21 323.87 L473.33 323.16 L473.85 323.22 L473.7 321.95 L473.38 320.27 L474.27 321.06 L473.57 318.52 L473.75 317.78 L473.85 316.84 L474.82 317.86 L474.14 315.09 L473.97 313.43 L474.57 313.57 L474.41 311.83 L475.37 312.88 L474.53 309.3 L475.13 309.4 L474.84 307.08 L475.88 308.35 L475.33 305.17 L475.83 304.93 L475.78 303.02 L476.53 303.47 L476.72 302.18 L476.24 298.69 L477.35 300.28 L477.62 299.12 L477.83 297.7 L478.36 297.31 L478.2 294.37 L478.47 292.92 L479.42 294.09 L480.07 294.08 L479.91 290.67 L480.4 289.87 L480.95 289.28 L481.39 288.18 L482.28 289.17 L482.68 287.8 L483.43 288.14 L483.99 287.46 L484.18 284.64 L485.01 285.4 L485.18 282.09 L486.09 283.39 L486.81 283.42 L487.27 281.61 L487.82 280.29 L488.65 281.13 L489.5 282.35 L490.04 280.66 L490.65 279.52 L491.5 280.97 L492.22 281.02 L492.81 279.22 L493.57 279.83 L494.35 280.78 L495.02 279.96 L495.75 280.13 L496.43 279.02 L497.16 279.05 L497.87 278 L498.62 279.81 L499.34 280.31 L500.08 274.54 L500.82 276.14 L501.52 278.62 L502.26 278.22 L502.94 279.78 L503.64 280.3 L504.43 278.78 L505.05 280.75 L505.69 281.9 L506.59 279.21 L507.18 280.97 L507.91 280.8 L508.52 282 L509.21 282.18 L509.9 282.3 L510.66 281.88 L511.42 281.57 L511.76 284.38 L512.77 282.18 L513.14 284.51 L513.75 285.06 L514.59 284.2 L515.06 285.58 L515.4 287.57 L516.51 285.28 L516.6 288.41 L517.32 288.19 L517.83 289.02 L518.57 288.76 L518.69 291.24 L519.45 290.81 L519.54 293.22 L520.38 292.49 L520.37 295.08 L520.84 295.72 L521.75 294.78 L521.71 297.19 L521.99 298.42 L522.85 297.64 L522.66 300.31 L522.63 302.35 L523.33 302.05 L523.05 304.71 L523.97 303.77 L524.23 304.74 L523.91 307.27 L524.09 308.35 L524.53 308.69 L524.66 309.85 L524.49 311.71 L525.15 311.43 L524.39 314.63 L525.05 314.33 L525.15 315.34 L525.28 316.27 L525.57 316.81 L525.06 319.07 L525.8 318.57 L525.57 320.14 L525.46 321.42 L525.26 322.82 L525.45 323.43 L526.19 322.94 L525.72 324.77 L526.19 324.8 L526.59 324.96 L526.42 326.14 L526.29 327.23 L524.97 330.36 L524.06 332.68 L524.51 332.64 L523.8 334.52 L523.95 334.96 L523.2 336.81 L523.57 336.86 L523.21 338.03 L522.97 338.99 L522.7 339.97 L522.5 340.83 L522.28 341.69 L522.16 342.39 L522.45 342.5 L521.56 344.22 L522.68 343.19 L521.62 345.09 L522.15 344.85 L521.49 346.16 L521.33 346.8 L522.53 345.73 L521.13 347.89 L520.5 349.07 L520.73 349.18 L520.87 349.4 L522.24 348.2 L521.01 350 L521.36 349.97 L520.12 351.72 L520.86 351.26 L520.98 351.47 L521.62 351.15 L520 353.18 L520.76 352.72 L520.52 353.28 L519.64 354.48 L520.25 354.19 L520.07 354.66 L518.71 356.25 L520.63 354.73 L520.61 355.04 L519.99 355.9 L519.43 356.68 L521.39 355.22 L520.66 356.15 L521.26 355.91 L521.63 355.89 L520.39 357.19 L521.41 356.62 L520.78 357.4 L521 357.49 L521.09 357.68 L521.25 357.82 L522.16 357.4 L521.55 358.12 L521.44 358.45 L521.45 358.69 L522 358.56 L521.18 359.38 L521.56 359.36 L521.97 359.33 L521.67 359.77 L522.07 359.75 L521.76 360.19 L523.81 359.14 L523.35 359.67 L522.72 360.31 L522.37 360.76 L524.13 359.96 L522.69 361.03 L522.37 361.45 L522.67 361.51 L522.65 361.75 L523.49 361.52 L522.31 362.38 L523.94 361.75 L521.47 363.24 L522.62 362.88 L521.1 363.83 L523.21 363.03 L521.25 364.17 L521.23 364.38 L521.74 364.34 L521.69 364.57 L519.36 365.78 L519.58 365.86 L518.24 366.6 L518.96 366.47 L517.99 367.02 L516.78 367.66 L515.27 368.38 L514.06 368.96 L512.07 369.81 L511.14 370.25 L508.99 371.09 L502.27 373.43 L499.7 374.3 L499.7 374.3" fill="none" stroke="#1947ff" stroke-width="1.45" stroke-linejoin="round" />
<path d="M499.7 374.3 L499.7 374.3 L497.31 373.49 L494.94 372.65 L493.15 371.98 L493.06 371.89 L493.29 371.92 L492.49 371.56 L492.09 371.34 L489.92 370.41 L490.87 370.71 L489.35 370 L489.4 369.93 L488.52 369.45 L488.68 369.42 L489.09 369.51 L488.98 369.36 L488.67 369.11 L488.48 368.92 L488.73 368.94 L488.35 368.64 L487.37 368.04 L489.04 368.78 L487.92 368.09 L488.46 368.27 L487.82 367.8 L487.42 367.46 L487.85 367.58 L487.37 367.19 L488.56 367.76 L487.14 366.79 L487.99 367.18 L487.34 366.66 L487.55 366.66 L488.93 367.41 L487.98 366.68 L487.48 366.22 L486.8 365.63 L487.42 365.91 L487.42 365.77 L488.22 366.2 L486.81 365.05 L486.61 364.76 L487.45 365.22 L487.54 365.15 L488.17 365.49 L486.95 364.39 L486.05 363.53 L486.94 364.07 L486.64 363.66 L486.91 363.73 L487.55 364.1 L486.42 362.97 L487.51 363.74 L486.96 363.1 L486.66 362.65 L486.3 362.15 L486.41 362.06 L486.32 361.79 L486.72 361.98 L486.84 361.9 L486.14 361.02 L486.35 361.03 L486.47 360.95 L486.32 360.59 L485.87 359.91 L486.29 360.13 L485.94 359.54 L485.91 359.28 L485.02 358.07 L484.78 357.55 L484 356.4 L485.22 357.54 L484.74 356.71 L483.96 355.5 L484.23 355.54 L484.11 355.09 L483.16 353.6 L483.71 353.98 L483.77 353.73 L483.57 353.14 L482.69 351.63 L482.4 350.88 L482.68 350.88 L482.21 349.84 L481.33 348.2 L480.96 347.24 L481.01 346.86 L480.21 345.22 L479.83 344.16 L480.12 344.1 L479.09 341.97 L478.26 340.1 L477.97 339.04 L477.87 338.27 L476.76 335.78 L475.97 333.75 L475.26 331.79 L475.93 332.22 L474.12 328.21 L474.88 328.76 L474.04 326.36 L473.77 324.95 L473.7 323.87 L473.81 323.15 L474.08 322.71 L473.56 320.64 L473.89 320.28 L474.37 320.21 L473.06 316.28 L473.67 316.44 L473.49 314.85 L474.26 315.37 L473.82 313.08 L473.93 312.03 L474.09 311.04 L474.59 310.9 L475.01 310.54 L474.96 308.94 L475.57 309.06 L475.66 307.75 L475.51 305.71 L475.96 305.29 L476.04 303.8 L476.29 302.74 L476.2 300.55 L476.6 299.88 L477.14 299.59 L477.24 297.82 L477.89 297.91 L478.16 296.62 L478.33 294.88 L479.05 295.14 L479.31 293.64 L479.89 293.34 L480.14 291.63 L480.4 289.88 L481.2 290.45 L481.58 289.06 L482.23 288.94 L482.79 288.32 L483.34 287.64 L483.6 285.35 L484.09 284.11 L484.86 284.52 L485.57 284.54 L486.04 283.04 L486.75 283.05 L487.3 281.85 L488 281.72 L488.68 281.4 L489.34 280.92 L490.11 281.38 L490.79 281.06 L491.56 281.64 L492.2 280.68 L492.94 281.06 L493.59 280.08 L494.32 280.31 L495 279.37 L495.7 278.8 L496.45 279.57 L497.15 278.86 L497.88 278.64 L498.59 277.4 L499.33 277.69 L500.07 277.21 L500.82 276.05 L501.55 277.19 L502.23 279.28 L503.01 277.82 L503.68 279.47 L504.32 281.09 L505.2 278.15 L505.88 279.05 L506.48 280.83 L507.23 280.31 L507.92 280.74 L508.63 280.76 L509.23 281.92 L509.97 281.69 L510.73 281.29 L511.39 281.77 L512.13 281.61 L512.68 282.8 L513.5 282.06 L513.83 284.54 L514.52 284.65 L514.87 286.64 L515.51 286.95 L516.35 286.13 L516.64 288.2 L517.34 288.1 L517.79 289.23 L518.16 290.62 L518.73 291.04 L519.18 291.99 L519.63 292.86 L520.24 293.03 L520.64 294.04 L520.84 295.74 L521.14 296.95 L521.68 297.3 L521.94 298.57 L522.45 298.98 L523.04 299.1 L523.01 301.17 L523.12 302.7 L523.36 303.8 L523.47 305.22 L523.69 306.27 L523.88 307.35 L524.21 308.04 L524.39 309.08 L524.81 309.45 L524.73 311.11 L524.92 312.02 L524.82 313.58 L525.62 312.98 L525.48 314.59 L525.9 314.86 L525.76 316.39 L526 317.01 L525.61 318.98 L525.88 319.5 L526.38 319.52 L525.3 322.75 L525.87 322.6 L525.9 323.49 L525.4 325.38 L525.3 326.46 L525.21 327.5 L524.32 329.93 L524.24 330.86 L523.4 333.08 L522.99 334.5 L522.53 335.96 L522.15 337.25 L521.66 338.67 L521.15 340.07 L519.95 342.54 L520.52 342.18 L519.77 343.86 L519.23 345.16 L518.48 346.73 L518.21 347.57 L518.08 348.19 L517.69 349.15 L516.6 351.05 L517.16 350.66 L517.67 350.36 L515.62 353.41 L516.43 352.7 L515.95 353.64 L515.56 354.45 L515.95 354.28 L514.79 356 L515.15 355.85 L515.51 355.71 L514.68 356.95 L514.44 357.49 L514.5 357.68 L514.12 358.35 L514.8 357.85 L513.63 359.36 L514.24 358.94 L513.2 360.25 L513.89 359.76 L513.43 360.44 L512.23 361.85 L513.23 361.05 L512.65 361.82 L512.81 361.85 L513.6 361.3 L512.3 362.7 L512.22 362.94 L513.28 362.17 L512.58 362.97 L513.17 362.64 L512.52 363.36 L511.88 364.07 L512.2 363.96 L512.76 363.66 L512.58 363.98 L512.08 364.53 L512.06 364.7 L511.94 364.94 L511.68 365.28 L512.89 364.53 L511.92 365.39 L511.32 365.96 L511.63 365.88 L512.22 365.6 L512.17 365.78 L511.75 366.2 L511.47 366.52 L511.81 366.42 L510.91 367.13 L511.08 367.14 L512.16 366.59 L511.47 367.15 L511.89 367.02 L512.31 366.9 L511.97 367.22 L511.59 367.56 L512.68 367.07 L511.84 367.66 L511.22 368.11 L511.74 367.95 L511.49 368.2 L510.7 368.71 L511.11 368.61 L510.86 368.84 L509.73 369.49 L510.59 369.18 L510.37 369.38 L510.11 369.6 L509.24 370.08 L509.74 369.95 L509.65 370.08 L509.42 370.26 L508.35 370.78 L508.95 370.62 L507.41 371.3 L507.44 371.36 L507.7 371.33 L505.85 372.07 L505.09 372.39 L504.49 372.64 L501.63 373.65 L499.7 374.3 L499.7 374.3" fill="none" stroke="#ff0d0d" stroke-width="1.45" stroke-linejoin="round" />
<path d="M499.7 374.3 L499.7 374.3 L496.2 373.13 L492.95 371.99 L490.16 370.96 L488.02 370.13 L486.48 369.49 L485.09 368.88 L483.87 368.31 L482.79 367.78 L481.88 367.3 L481.11 366.87 L480.51 366.48 L480.06 366.16 L479.66 365.84 L479.3 365.54 L478.98 365.25 L478.68 364.96 L478.41 364.68 L478.17 364.41 L477.96 364.14 L477.77 363.89 L477.6 363.64 L477.46 363.4 L477.35 363.17 L477.25 362.94 L477.17 362.72 L477.11 362.51 L477.06 362.3 L477.02 362.1 L477 361.9 L476.98 361.7 L476.96 361.51 L476.96 361.32 L476.96 361.13 L476.97 360.95 L476.99 360.76 L477.01 360.58 L477.04 360.41 L477.08 360.23 L477.12 360.06 L477.17 359.89 L477.22 359.73 L477.28 359.57 L477.34 359.4 L477.41 359.25 L477.48 359.09 L477.55 358.93 L477.63 358.78 L477.71 358.63 L477.79 358.47 L477.87 358.32 L477.95 358.17 L478.03 358.02 L478.12 357.87 L478.2 357.72 L478.29 357.57 L478.37 357.42 L478.45 357.27 L478.53 357.12 L478.62 356.96 L478.69 356.8 L478.77 356.64 L478.85 356.48 L478.92 356.32 L478.99 356.15 L479.05 355.97 L479.09 355.77 L479.12 355.57 L479.15 355.35 L479.16 355.13 L479.17 354.89 L479.16 354.64 L479.15 354.38 L479.13 354.11 L479.11 353.83 L479.07 353.54 L479.04 353.23 L478.99 352.92 L478.94 352.6 L478.89 352.27 L478.83 351.93 L478.77 351.58 L478.71 351.22 L478.64 350.86 L478.58 350.48 L478.51 350.1 L478.44 349.71 L478.37 349.31 L478.3 348.91 L478.23 348.5 L478.16 348.08 L478.09 347.66 L478.02 347.23 L477.96 346.8 L477.89 346.36 L477.83 345.92 L477.78 345.47 L477.72 345.02 L477.67 344.56 L477.6 344.07 L477.53 343.57 L477.44 343.04 L477.35 342.49 L477.25 341.91 L477.13 341.31 L477.01 340.68 L476.88 340.02 L476.74 339.34 L476.59 338.62 L476.43 337.88 L476.27 337.1 L476.09 336.3 L475.9 335.46 L475.69 334.55 L475.36 333.43 L474.95 332.13 L474.49 330.73 L474.05 329.32 L473.67 327.98 L473.4 326.79 L473.27 325.85 L473.24 325.05 L473.25 324.33 L473.31 323.67 L473.39 323.04 L473.48 322.43 L473.58 321.8 L473.66 321.13 L473.73 320.41 L473.78 319.65 L473.83 318.86 L473.88 318.05 L473.94 317.22 L473.99 316.38 L474.06 315.53 L474.13 314.68 L474.21 313.82 L474.3 312.97 L474.41 312.12 L474.53 311.28 L474.66 310.44 L474.79 309.6 L474.94 308.75 L475.09 307.91 L475.26 307.06 L475.44 306.21 L475.62 305.36 L475.81 304.52 L476.02 303.67 L476.23 302.82 L476.46 301.98 L476.69 301.13 L476.93 300.27 L477.18 299.4 L477.44 298.53 L477.7 297.66 L477.98 296.8 L478.27 295.95 L478.58 295.12 L478.9 294.32 L479.24 293.54 L479.59 292.79 L479.96 292.06 L480.34 291.35 L480.73 290.65 L481.13 289.96 L481.54 289.29 L481.97 288.64 L482.4 288 L482.84 287.39 L483.3 286.79 L483.76 286.21 L484.23 285.63 L484.71 285.05 L485.19 284.47 L485.68 283.91 L486.18 283.38 L486.69 282.88 L487.22 282.44 L487.76 282.06 L488.31 281.75 L488.87 281.49 L489.43 281.24 L490 281.02 L490.57 280.81 L491.14 280.62 L491.72 280.45 L492.3 280.29 L492.89 280.13 L493.47 279.99 L494.06 279.84 L494.64 279.7 L495.23 279.56 L495.82 279.42 L496.42 279.3 L497.01 279.18 L497.61 279.08 L498.2 278.99 L498.8 278.94 L499.4 278.9 L500 278.9 L500.6 278.94 L501.2 278.99 L501.79 279.08 L502.39 279.18 L502.98 279.3 L503.58 279.42 L504.17 279.56 L504.76 279.7 L505.34 279.84 L505.93 279.99 L506.51 280.13 L507.1 280.29 L507.68 280.45 L508.26 280.62 L508.83 280.81 L509.4 281.02 L509.97 281.24 L510.53 281.49 L511.09 281.75 L511.64 282.06 L512.18 282.44 L512.71 282.88 L513.22 283.38 L513.72 283.91 L514.21 284.47 L514.69 285.05 L515.17 285.63 L515.64 286.21 L516.1 286.79 L516.56 287.39 L517 288 L517.43 288.64 L517.86 289.29 L518.27 289.96 L518.67 290.65 L519.06 291.35 L519.44 292.06 L519.81 292.79 L520.16 293.54 L520.5 294.32 L520.82 295.12 L521.13 295.95 L521.42 296.8 L521.7 297.66 L521.96 298.53 L522.22 299.4 L522.47 300.27 L522.71 301.13 L522.94 301.98 L523.17 302.82 L523.38 303.67 L523.59 304.52 L523.78 305.36 L523.96 306.21 L524.14 307.06 L524.31 307.91 L524.46 308.75 L524.61 309.6 L524.74 310.44 L524.87 311.28 L524.99 312.12 L525.1 312.97 L525.19 313.82 L525.27 314.68 L525.34 315.53 L525.41 316.38 L525.46 317.22 L525.52 318.05 L525.57 318.86 L525.62 319.65 L525.67 320.41 L525.74 321.13 L525.82 321.8 L525.92 322.43 L526.01 323.04 L526.09 323.67 L526.15 324.33 L526.16 325.05 L526.13 325.85 L526 326.79 L525.73 327.98 L525.35 329.32 L524.91 330.73 L524.45 332.13 L524.04 333.43 L523.71 334.55 L523.5 335.46 L523.31 336.3 L523.13 337.1 L522.97 337.88 L522.81 338.62 L522.66 339.34 L522.52 340.02 L522.39 340.68 L522.27 341.31 L522.15 341.91 L522.05 342.49 L521.96 343.04 L521.87 343.57 L521.8 344.07 L521.73 344.56 L521.68 345.02 L521.62 345.47 L521.57 345.92 L521.51 346.36 L521.44 346.8 L521.38 347.23 L521.31 347.66 L521.24 348.08 L521.17 348.5 L521.1 348.91 L521.03 349.31 L520.96 349.71 L520.89 350.1 L520.82 350.48 L520.76 350.86 L520.69 351.22 L520.63 351.58 L520.57 351.93 L520.51 352.27 L520.46 352.6 L520.41 352.92 L520.36 353.23 L520.33 353.54 L520.29 353.83 L520.27 354.11 L520.25 354.38 L520.24 354.64 L520.23 354.89 L520.24 355.13 L520.25 355.35 L520.28 355.57 L520.31 355.77 L520.35 355.97 L520.41 356.15 L520.48 356.32 L520.55 356.48 L520.63 356.64 L520.71 356.8 L520.78 356.96 L520.87 357.12 L520.95 357.27 L521.03 357.42 L521.11 357.57 L521.2 357.72 L521.28 357.87 L521.37 358.02 L521.45 358.17 L521.53 358.32 L521.61 358.47 L521.69 358.63 L521.77 358.78 L521.85 358.93 L521.92 359.09 L521.99 359.25 L522.06 359.4 L522.12 359.57 L522.18 359.73 L522.23 359.89 L522.28 360.06 L522.32 360.23 L522.36 360.41 L522.39 360.58 L522.41 360.76 L522.43 360.95 L522.44 361.13 L522.44 361.32 L522.44 361.51 L522.42 361.7 L522.4 361.9 L522.38 362.1 L522.34 362.3 L522.29 362.51 L522.23 362.72 L522.15 362.94 L522.05 363.17 L521.94 363.4 L521.8 363.64 L521.63 363.89 L521.44 364.14 L521.23 364.41 L520.99 364.68 L520.72 364.96 L520.42 365.25 L520.1 365.54 L519.74 365.84 L519.34 366.16 L518.89 366.48 L518.29 366.87 L517.52 367.3 L516.61 367.78 L515.53 368.31 L514.31 368.88 L512.92 369.49 L511.38 370.13 L509.24 370.96 L506.45 371.99 L503.2 373.13 L499.7 374.3 L499.7 374.3" fill="none" stroke="#1947ff" stroke-width="1.45" stroke-linejoin="round" stroke-dasharray="5 4.3"/>
<path d="M499.7 374.3 L499.7 374.3 L497.92 373.7 L496.2 373.1 L494.74 372.56 L493.7 372.16 L493.06 371.88 L492.49 371.62 L491.97 371.37 L491.5 371.14 L491.08 370.91 L490.7 370.7 L490.37 370.5 L490.07 370.31 L489.81 370.13 L489.58 369.95 L489.37 369.79 L489.19 369.63 L489.04 369.48 L488.89 369.33 L488.76 369.19 L488.64 369.05 L488.53 368.91 L488.43 368.77 L488.34 368.64 L488.25 368.51 L488.17 368.38 L488.1 368.25 L488.04 368.12 L487.98 367.99 L487.93 367.87 L487.88 367.75 L487.84 367.63 L487.8 367.51 L487.77 367.39 L487.74 367.27 L487.71 367.15 L487.69 367.04 L487.67 366.92 L487.65 366.81 L487.64 366.69 L487.62 366.58 L487.61 366.46 L487.59 366.34 L487.58 366.23 L487.57 366.11 L487.56 365.99 L487.55 365.87 L487.53 365.74 L487.52 365.62 L487.5 365.49 L487.48 365.36 L487.46 365.23 L487.44 365.09 L487.41 364.95 L487.38 364.8 L487.35 364.66 L487.32 364.5 L487.28 364.34 L487.23 364.18 L487.19 364.01 L487.13 363.83 L487.08 363.65 L487.02 363.46 L486.95 363.27 L486.89 363.07 L486.82 362.87 L486.74 362.65 L486.67 362.44 L486.59 362.21 L486.5 361.98 L486.42 361.74 L486.33 361.5 L486.24 361.25 L486.14 360.99 L486.04 360.72 L485.94 360.45 L485.84 360.17 L485.73 359.88 L485.62 359.58 L485.51 359.28 L485.39 358.96 L485.27 358.64 L485.15 358.31 L485.03 357.97 L484.91 357.62 L484.78 357.26 L484.65 356.9 L484.52 356.52 L484.39 356.13 L484.25 355.74 L484.11 355.33 L483.98 354.92 L483.83 354.48 L483.66 354.01 L483.47 353.5 L483.27 352.97 L483.05 352.4 L482.81 351.8 L482.57 351.17 L482.31 350.52 L482.04 349.83 L481.77 349.11 L481.48 348.37 L481.19 347.59 L480.88 346.79 L480.58 345.96 L480.26 345.1 L479.92 344.18 L479.51 343.13 L479.06 341.99 L478.57 340.76 L478.07 339.49 L477.58 338.2 L477.11 336.9 L476.68 335.64 L476.28 334.41 L475.89 333.15 L475.51 331.88 L475.16 330.62 L474.84 329.4 L474.58 328.24 L474.37 327.16 L474.19 326.11 L474.05 325.09 L473.93 324.11 L473.85 323.15 L473.78 322.21 L473.74 321.29 L473.71 320.38 L473.71 319.5 L473.73 318.64 L473.77 317.81 L473.83 316.98 L473.9 316.17 L473.98 315.36 L474.08 314.56 L474.18 313.76 L474.29 312.94 L474.41 312.12 L474.53 311.28 L474.66 310.44 L474.79 309.6 L474.94 308.75 L475.09 307.91 L475.26 307.06 L475.44 306.21 L475.62 305.36 L475.81 304.52 L476.02 303.67 L476.23 302.82 L476.46 301.98 L476.69 301.13 L476.93 300.27 L477.18 299.4 L477.44 298.53 L477.7 297.66 L477.98 296.8 L478.27 295.95 L478.58 295.12 L478.9 294.32 L479.24 293.54 L479.59 292.79 L479.96 292.06 L480.34 291.35 L480.73 290.65 L481.13 289.96 L481.54 289.29 L481.97 288.64 L482.4 288 L482.84 287.39 L483.3 286.79 L483.76 286.21 L484.23 285.63 L484.71 285.05 L485.19 284.47 L485.68 283.91 L486.18 283.38 L486.69 282.88 L487.22 282.44 L487.76 282.06 L488.31 281.75 L488.87 281.49 L489.43 281.27 L490 281.06 L490.58 280.88 L491.15 280.71 L491.73 280.54 L492.31 280.38 L492.89 280.21 L493.47 280.03 L494.06 279.83 L494.64 279.59 L495.22 279.32 L495.81 279.03 L496.4 278.73 L496.99 278.44 L497.59 278.18 L498.19 277.96 L498.79 277.8 L499.4 277.71 L500 277.71 L500.61 277.8 L501.21 277.96 L501.81 278.18 L502.41 278.44 L503 278.73 L503.59 279.03 L504.18 279.32 L504.76 279.59 L505.34 279.83 L505.93 280.03 L506.51 280.21 L507.09 280.38 L507.67 280.54 L508.25 280.71 L508.82 280.88 L509.4 281.06 L509.97 281.27 L510.53 281.49 L511.09 281.75 L511.64 282.06 L512.18 282.44 L512.71 282.88 L513.22 283.38 L513.72 283.91 L514.21 284.47 L514.69 285.05 L515.17 285.63 L515.64 286.21 L516.1 286.79 L516.56 287.39 L517 288 L517.43 288.64 L517.86 289.29 L518.27 289.96 L518.67 290.65 L519.06 291.35 L519.44 292.06 L519.81 292.79 L520.16 293.54 L520.5 294.32 L520.82 295.12 L521.13 295.95 L521.42 296.8 L521.7 297.66 L521.96 298.53 L522.22 299.4 L522.47 300.27 L522.71 301.13 L522.94 301.98 L523.17 302.82 L523.38 303.67 L523.59 304.52 L523.78 305.36 L523.96 306.21 L524.14 307.06 L524.31 307.91 L524.46 308.75 L524.61 309.6 L524.74 310.44 L524.87 311.28 L524.99 312.12 L525.11 312.94 L525.22 313.76 L525.32 314.56 L525.42 315.36 L525.5 316.17 L525.57 316.98 L525.63 317.81 L525.67 318.64 L525.69 319.5 L525.69 320.38 L525.66 321.29 L525.62 322.21 L525.55 323.15 L525.47 324.11 L525.35 325.09 L525.21 326.11 L525.03 327.16 L524.82 328.24 L524.56 329.4 L524.24 330.62 L523.89 331.88 L523.51 333.15 L523.12 334.41 L522.72 335.64 L522.29 336.9 L521.82 338.2 L521.33 339.49 L520.83 340.76 L520.34 341.99 L519.89 343.13 L519.48 344.18 L519.14 345.1 L518.82 345.96 L518.52 346.79 L518.21 347.59 L517.92 348.37 L517.63 349.11 L517.36 349.83 L517.09 350.52 L516.83 351.17 L516.59 351.8 L516.35 352.4 L516.13 352.97 L515.93 353.5 L515.74 354.01 L515.57 354.48 L515.42 354.92 L515.29 355.33 L515.15 355.74 L515.01 356.13 L514.88 356.52 L514.75 356.9 L514.62 357.26 L514.49 357.62 L514.37 357.97 L514.25 358.31 L514.13 358.64 L514.01 358.96 L513.89 359.28 L513.78 359.58 L513.67 359.88 L513.56 360.17 L513.46 360.45 L513.36 360.72 L513.26 360.99 L513.16 361.25 L513.07 361.5 L512.98 361.74 L512.9 361.98 L512.81 362.21 L512.73 362.44 L512.66 362.65 L512.58 362.87 L512.51 363.07 L512.45 363.27 L512.38 363.46 L512.32 363.65 L512.27 363.83 L512.21 364.01 L512.17 364.18 L512.12 364.34 L512.08 364.5 L512.05 364.66 L512.02 364.8 L511.99 364.95 L511.96 365.09 L511.94 365.23 L511.92 365.36 L511.9 365.49 L511.88 365.62 L511.87 365.74 L511.85 365.87 L511.84 365.99 L511.83 366.11 L511.82 366.23 L511.81 366.34 L511.79 366.46 L511.78 366.58 L511.76 366.69 L511.75 366.81 L511.73 366.92 L511.71 367.04 L511.69 367.15 L511.66 367.27 L511.63 367.39 L511.6 367.51 L511.56 367.63 L511.52 367.75 L511.47 367.87 L511.42 367.99 L511.36 368.12 L511.3 368.25 L511.23 368.38 L511.15 368.51 L511.06 368.64 L510.97 368.77 L510.87 368.91 L510.76 369.05 L510.64 369.19 L510.51 369.33 L510.36 369.48 L510.21 369.63 L510.03 369.79 L509.82 369.95 L509.59 370.13 L509.33 370.31 L509.03 370.5 L508.7 370.7 L508.32 370.91 L507.9 371.14 L507.43 371.37 L506.91 371.62 L506.34 371.88 L505.7 372.16 L504.66 372.56 L503.2 373.1 L501.48 373.7 L499.7 374.3 L499.7 374.3" fill="none" stroke="#ff0d0d" stroke-width="1.45" stroke-linejoin="round" stroke-dasharray="5 4.3"/>
<path d="M453.2 374.3 A46.5 46.5 0 0 1 546.2 374.3" fill="none" stroke="#231f20" stroke-width="1.1"/>
<path d="M406.7 374.3 A93 93 0 0 1 592.7 374.3" fill="none" stroke="#231f20" stroke-width="1.1"/>
<path d="M383.45 374.3 A116.25 116.25 0 0 1 615.95 374.3" fill="none" stroke="#231f20" stroke-width="1.1"/>
<line x1="499.7" y1="374.3" x2="387.41" y2="344.21" stroke="#8a8a8a" stroke-width="0.9" stroke-dasharray="1 1.6"/>
<line x1="499.7" y1="374.3" x2="417.5" y2="292.1" stroke="#8a8a8a" stroke-width="0.9" stroke-dasharray="1 1.6"/>
<line x1="499.7" y1="374.3" x2="469.61" y2="262.01" stroke="#8a8a8a" stroke-width="0.9" stroke-dasharray="1 1.6"/>
<line x1="499.7" y1="374.3" x2="529.79" y2="262.01" stroke="#8a8a8a" stroke-width="0.9" stroke-dasharray="1 1.6"/>
<line x1="499.7" y1="374.3" x2="581.9" y2="292.1" stroke="#8a8a8a" stroke-width="0.9" stroke-dasharray="1 1.6"/>
<line x1="499.7" y1="374.3" x2="611.99" y2="344.21" stroke="#8a8a8a" stroke-width="0.9" stroke-dasharray="1 1.6"/>
<line x1="499.7" y1="374.3" x2="399.02" y2="316.18" stroke="#231f20" stroke-width="1.1" />
<line x1="499.7" y1="374.3" x2="441.57" y2="273.62" stroke="#231f20" stroke-width="1.1" />
<line x1="499.7" y1="374.3" x2="557.82" y2="273.62" stroke="#231f20" stroke-width="1.1" />
<line x1="499.7" y1="374.3" x2="600.38" y2="316.18" stroke="#231f20" stroke-width="1.1" />
<line x1="499.7" y1="374.3" x2="499.7" y2="258.05" stroke="#333" stroke-width="1.1" />
<line x1="499.7" y1="374.3" x2="389.15" y2="338.36" stroke="#231f20" stroke-width="1.5" stroke-dasharray="4.2 3.2"/>
<line x1="499.7" y1="374.3" x2="610.25" y2="338.36" stroke="#231f20" stroke-width="1.5" stroke-dasharray="4.2 3.2"/>
<line x1="382.15" y1="374.3" x2="616.45" y2="374.3" stroke="#231f20" stroke-width="1.2" />
<text x="499.2" y="250.9" font-size="14" text-anchor="middle" fill="#231f20" >0</text>
<text x="498.9" y="234.5" text-anchor="middle" font-family="'Liberation Serif', serif" font-style="italic" font-size="15" style="stroke-width:0" fill="#231f20">θ</text>
<text x="444.5" y="267.3" font-size="14" text-anchor="end" fill="#231f20" >−30</text>
<text x="555.6" y="266.5" font-size="14" text-anchor="start" fill="#231f20" >30</text>
<text x="397.1" y="313.3" font-size="14" text-anchor="end" fill="#231f20" >−60</text>
<text x="604.3" y="313.3" font-size="14" text-anchor="start" fill="#231f20" >60</text>
<text x="377.8" y="378.2" font-size="14" text-anchor="end" fill="#231f20" >−90</text>
<text x="621.1" y="377.7" font-size="14" text-anchor="start" fill="#231f20" >90</text>
<text x="348.2" y="340.7" font-size="14" fill="#231f20">−<tspan font-family="'Liberation Serif', serif" font-style="italic" font-size="15" style="stroke-width:0">θ</tspan><tspan font-size="10.4" dy="3.1">max</tspan></text>
<text x="613" y="339.4" font-family="'Liberation Serif', serif" font-style="italic" font-size="15" style="stroke-width:0" fill="#231f20">θ<tspan font-family="'Liberation Sans', sans-serif" font-style="normal" font-size="10.4" style="stroke-width:0.3px" dy="3.1">max</tspan></text>
<text x="499.7" y="391.2" font-size="14" text-anchor="middle" fill="#231f20" >0.0</text>
<text x="545.2" y="391.2" font-size="14" text-anchor="middle" fill="#231f20" >0.5</text>
<text x="591.7" y="391.2" font-size="14" text-anchor="middle" fill="#231f20" >1.0</text>
<text x="546.2" y="412.9" font-size="14" text-anchor="middle" fill="#231f20"><tspan font-style="italic">I</tspan> (<tspan font-family="'Liberation Serif', serif" font-style="italic" font-size="15" style="stroke-width:0">θ</tspan>) (a.u.)</text>
<rect x="597.6" y="184.6" width="86.8" height="69.6" fill="#fff" stroke="#231f20" stroke-width="1.0"/>
<line x1="601" y1="195.5" x2="618.3" y2="195.5" stroke="#ff0d0d" stroke-width="0.9"  stroke-opacity="0.75"/>
<text x="624.6" y="199.1" font-size="12" fill="#231f20" style="stroke-width:0.12px">Exp.</text>
<path d="M655.3 191.3 V198.8 M651.5 198.8 H659.1" stroke="#ff0d0d" stroke-width="1.0" fill="none"/>
<line x1="601" y1="211.5" x2="618.3" y2="211.5" stroke="#1947ff" stroke-width="0.9"  stroke-opacity="0.75"/>
<text x="624.6" y="215.1" font-size="12" fill="#231f20" style="stroke-width:0.12px">Exp.</text>
<path d="M652.7 206.5 V215.1 M656.4 206.5 V215.1" stroke="#1947ff" stroke-width="1.2" fill="none"/>
<line x1="601" y1="227.5" x2="618.3" y2="227.5" stroke="#ff0d0d" stroke-width="0.9" stroke-dasharray="3.2 1.9" stroke-opacity="0.75"/>
<text x="624.6" y="231.6" font-size="12" fill="#231f20" style="stroke-width:0.12px">Calc.</text>
<path d="M659 223.8 V231.3 M655.2 231.3 H662.8" stroke="#ff0d0d" stroke-width="1.0" fill="none"/>
<line x1="601" y1="244.5" x2="618.3" y2="244.5" stroke="#1947ff" stroke-width="0.9" stroke-dasharray="3.2 1.9" stroke-opacity="0.75"/>
<text x="624.6" y="247.6" font-size="12" fill="#231f20" style="stroke-width:0.12px">Calc.</text>
<path d="M656.4 239 V247.6 M660.1 239 V247.6" stroke="#1947ff" stroke-width="1.2" fill="none"/>
</svg>
</body></html>
